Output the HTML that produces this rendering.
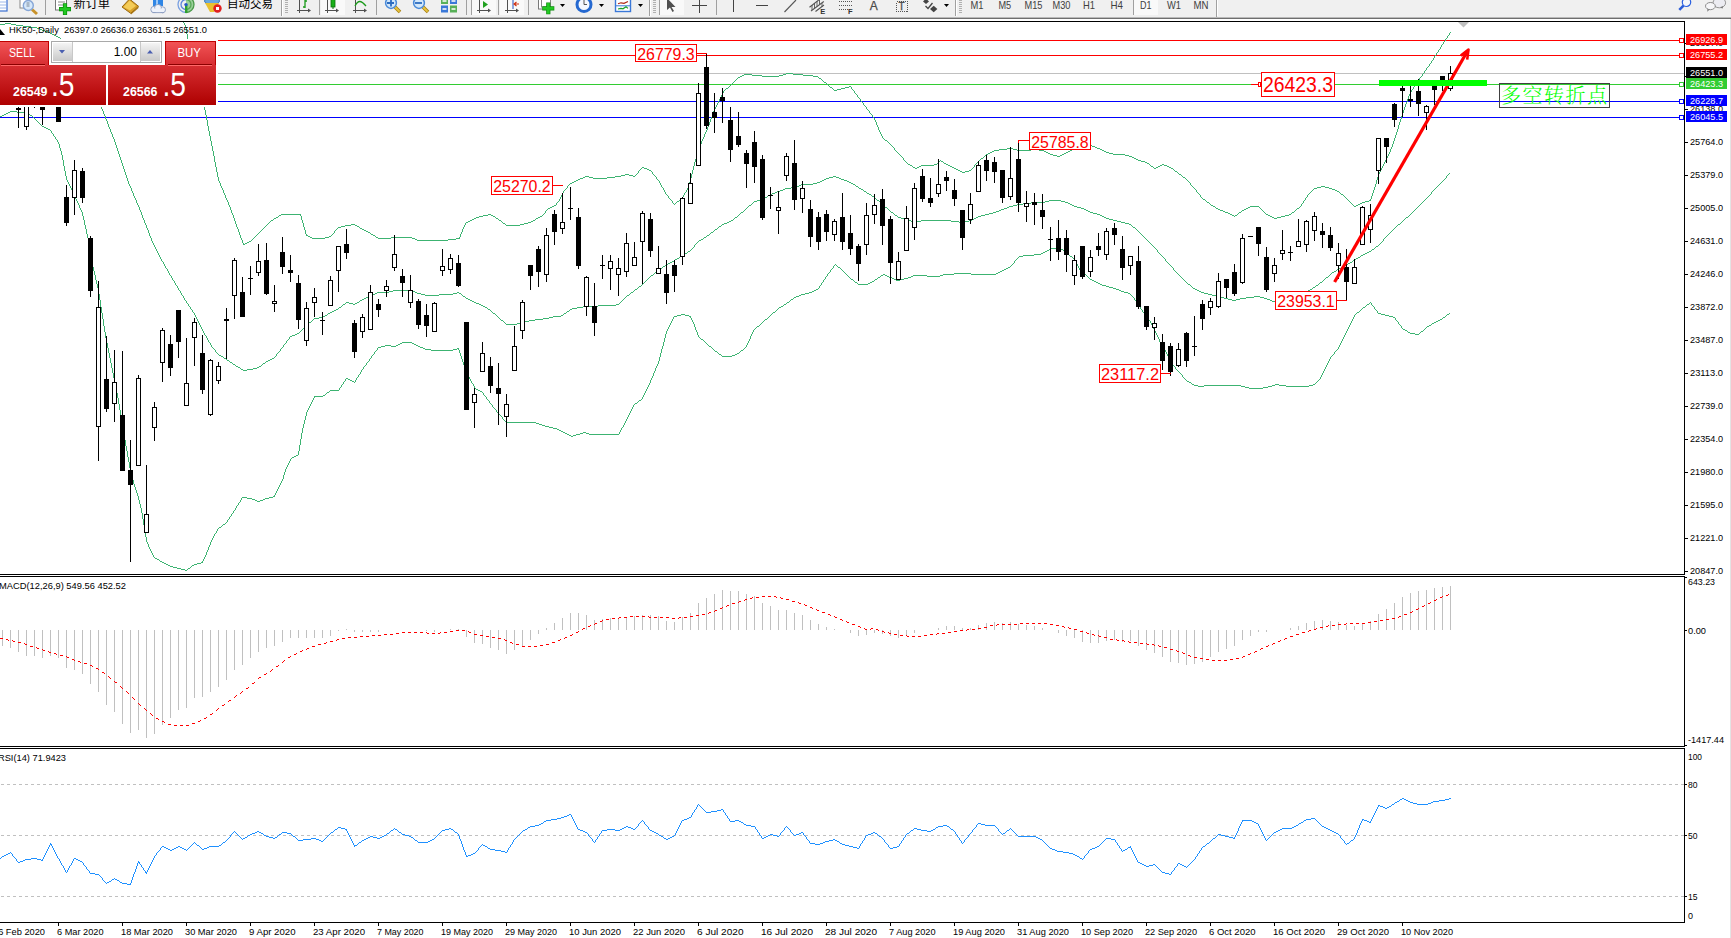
<!DOCTYPE html>
<html><head><meta charset="utf-8"><title>HK50 Daily</title>
<style>html,body{margin:0;padding:0;background:#fff;overflow:hidden}svg{display:block}text{font-family:"Liberation Sans", "Noto Sans CJK SC", sans-serif}</style></head>
<body>
<svg width="1731" height="938" viewBox="0 0 1731 938">
<defs><linearGradient id="gr" gradientUnits="userSpaceOnUse" x1="0" y1="41" x2="0" y2="105"><stop offset="0" stop-color="#f35557"/><stop offset="0.35" stop-color="#d83034"/><stop offset="1" stop-color="#ae0000"/></linearGradient><linearGradient id="gb" x1="0" y1="0" x2="0" y2="1"><stop offset="0" stop-color="#f4f4f4"/><stop offset="1" stop-color="#c9c9c9"/></linearGradient><clipPath id="cm"><rect x="0" y="22" width="1684" height="552"/></clipPath></defs>
<rect width="1731" height="938" fill="#fff"/>
<g shape-rendering="crispEdges">
<rect x="0" y="40" width="1680" height="1" fill="#ff0000"/><rect x="0" y="55" width="1680" height="1" fill="#ff0000"/><rect x="0" y="73" width="1684" height="1" fill="#c0c0c0"/><rect x="0" y="84" width="1680" height="1" fill="#32cd32"/><rect x="0" y="101" width="1680" height="1" fill="#0000ff"/><rect x="0" y="117" width="1680" height="1" fill="#0000ff"/>
</g>
<path fill="#3cb371" shape-rendering="crispEdges" d="M305 230h1v4h-1zM719 99h1v2h-1zM464 225h1v2h-1zM560 197h1v2h-1zM693 166h1v4h-1zM715 107h1v2h-1zM652 172h1v2h-1zM186 27h1v7h-1zM198 82h1v4h-1zM209 131h1v5h-1zM301 216h1v4h-1zM219 181h1v2h-1zM863 103h1v2h-1zM1410 92h1v2h-1zM191 53h1v4h-1zM226 198h1v2h-1zM192 57h1v4h-1zM705 132h1v2h-1zM194 65h1v4h-1zM205 110h1v5h-1zM1397 129h1v3h-1zM232 213h1v2h-1zM559 199h1v2h-1zM1449 33h1v2h-1zM233 215h1v3h-1zM187 34h1v7h-1zM460 234h1v3h-1zM242 240h1v3h-1zM188 41h1v4h-1zM1413 87h1v2h-1zM201 94h1v4h-1zM211 141h1v5h-1zM204 106h1v4h-1zM1409 94h1v2h-1zM304 227h1v3h-1zM1376 180h1v4h-1zM217 172h1v5h-1zM197 78h1v4h-1zM712 114h1v3h-1zM701 141h1v3h-1zM220 183h1v3h-1zM851 87h1v2h-1zM854 91h1v2h-1zM672 201h1v2h-1zM720 97h1v2h-1zM709 122h1v3h-1zM1400 119h1v3h-1zM227 200h1v2h-1zM1307 195h1v2h-1zM688 186h1v2h-1zM193 61h1v4h-1zM231 210h1v3h-1zM1303 201h1v2h-1zM214 156h1v6h-1zM1391 147h1v2h-1zM699 147h1v3h-1zM200 90h1v4h-1zM1379 172h1v2h-1zM1399 122h1v3h-1zM545 211h1v2h-1zM708 125h1v2h-1zM878 127h1v3h-1zM687 188h1v2h-1zM465 223h1v2h-1zM1419 78h1v2h-1zM683 195h1v2h-1zM656 177h1v2h-1zM216 167h1v5h-1zM1403 110h1v3h-1zM660 183h1v2h-1zM1370 199h1v2h-1zM698 150h1v3h-1zM1378 174h1v3h-1zM189 45h1v4h-1zM1390 149h1v3h-1zM695 159h1v3h-1zM686 190h1v2h-1zM702 139h1v2h-1zM1402 113h1v3h-1zM723 91h1v2h-1zM690 178h1v4h-1zM222 188h1v2h-1zM877 125h1v2h-1zM229 205h1v2h-1zM195 69h1v4h-1zM1434 56h1v2h-1zM659 181h1v2h-1zM239 232h1v3h-1zM722 93h1v2h-1zM869 111h1v2h-1zM1405 104h1v3h-1zM1383 164h1v2h-1zM334 231h1v2h-1zM1433 58h1v2h-1zM668 196h1v2h-1zM210 136h1v5h-1zM221 186h1v2h-1zM1429 64h1v2h-1zM1424 71h1v2h-1zM716 105h1v2h-1zM894 148h1v2h-1zM234 218h1v3h-1zM207 120h1v6h-1zM238 229h1v3h-1zM692 170h1v4h-1zM196 73h1v5h-1zM1411 90h1v2h-1zM1443 42h1v2h-1zM1386 158h1v2h-1zM215 162h1v5h-1zM556 203h1v2h-1zM1382 166h1v2h-1zM212 146h1v5h-1zM1438 50h1v2h-1zM1385 160h1v2h-1zM208 126h1v5h-1zM1381 168h1v2h-1zM1393 141h1v3h-1zM459 237h1v2h-1zM228 202h1v3h-1zM1372 193h1v3h-1zM1392 144h1v3h-1zM879 130h1v2h-1zM562 193h1v2h-1zM704 134h1v3h-1zM1396 132h1v3h-1zM203 102h1v4h-1zM213 151h1v5h-1zM1408 96h1v3h-1zM1375 184h1v3h-1zM561 195h1v2h-1zM1395 135h1v3h-1zM199 86h1v4h-1zM1447 36h1v2h-1zM711 117h1v2h-1zM1407 99h1v3h-1zM1374 187h1v3h-1zM694 162h1v4h-1zM663 188h1v2h-1zM710 119h1v3h-1zM689 182h1v4h-1zM202 98h1v4h-1zM718 101h1v2h-1zM1398 125h1v4h-1zM184 23h1v2h-1zM218 177h1v4h-1zM224 193h1v2h-1zM567 186h1v2h-1zM697 153h1v3h-1zM1377 177h1v3h-1zM717 103h1v2h-1zM463 227h1v2h-1zM1190 183h1v2h-1zM1404 107h1v3h-1zM1417 81h1v2h-1zM857 95h1v2h-1zM872 115h1v2h-1zM303 223h1v4h-1zM306 234h1v2h-1zM462 229h1v3h-1zM691 174h1v4h-1zM241 238h1v2h-1zM223 190h1v3h-1zM230 207h1v3h-1zM703 137h1v2h-1zM860 99h1v2h-1zM874 118h1v2h-1zM881 134h1v2h-1zM903 158h1v2h-1zM1301 204h1v2h-1zM236 224h1v3h-1zM1426 68h1v2h-1zM1422 74h1v2h-1zM714 109h1v2h-1zM1380 170h1v2h-1zM880 132h1v2h-1zM684 193h1v2h-1zM713 111h1v3h-1zM235 221h1v3h-1zM1371 196h1v3h-1zM661 185h1v2h-1zM696 156h1v3h-1zM1196 190h1v2h-1zM700 144h1v3h-1zM302 220h1v3h-1zM206 115h1v5h-1zM1394 138h1v3h-1zM1431 61h1v2h-1zM240 235h1v3h-1zM707 127h1v3h-1zM1406 102h1v2h-1zM1305 198h1v2h-1zM1373 190h1v3h-1zM225 195h1v3h-1zM1389 152h1v2h-1zM706 130h1v2h-1zM300 214h1v2h-1zM1401 116h1v3h-1zM1441 45h1v2h-1zM876 122h1v3h-1zM1388 154h1v2h-1zM1200 195h1v2h-1zM721 95h1v2h-1zM190 49h1v4h-1zM1440 47h1v2h-1zM1387 156h1v2h-1zM1436 53h1v2h-1zM461 232h1v2h-1zM638 171h1v2h-1zM875 120h1v2h-1zM882 136h1v2h-1zM237 227h1v2h-1zM185 25h1v2h-1zM866 107h1v2h-1zM563 191h1v2h-1zM1445 39h1v2h-1zM665 192h1v2h-1zM974 165h1v2h-1zM1384 162h1v2h-1zM664 190h1v2h-1zM1415 84h1v2h-1zM243 243h1v2h-1zM580 178h3v1h-3zM593 178h14v1h-14zM1185 178h1v1h-1zM732 83h1v1h-1zM826 83h1v1h-1zM1416 83h1v1h-1zM786 73h7v1h-7zM1423 73h1v1h-1zM583 177h2v1h-2zM589 177h4v1h-4zM607 177h8v1h-8zM1183 177h2v1h-2zM564 190h1v1h-1zM1312 190h1v1h-1zM1335 190h2v1h-2zM670 199h1v1h-1zM680 199h1v1h-1zM1203 199h2v1h-2zM1347 199h1v1h-1zM279 215h2v1h-2zM483 215h5v1h-5zM491 215h2v1h-2zM542 215h1v1h-1zM1232 215h2v1h-2zM1235 215h2v1h-2zM1268 215h2v1h-2zM1285 215h4v1h-4zM662 187h1v1h-1zM1193 187h1v1h-1zM1317 187h4v1h-4zM1325 187h4v1h-4zM251 240h1v1h-1zM417 240h31v1h-31zM550 207h2v1h-2zM1215 207h1v1h-1zM1248 207h2v1h-2zM1259 207h1v1h-1zM1299 207h1v1h-1zM558 201h1v1h-1zM677 201h2v1h-2zM1206 201h1v1h-1zM1349 201h1v1h-1zM1365 201h4v1h-4zM742 75h2v1h-2zM752 75h10v1h-10zM779 75h4v1h-4zM803 75h10v1h-10zM641 168h1v1h-1zM644 168h3v1h-3zM915 168h2v1h-2zM954 168h2v1h-2zM972 168h1v1h-1zM1154 168h2v1h-2zM1171 168h2v1h-2zM729 86h1v1h-1zM829 86h1v1h-1zM849 86h2v1h-2zM1414 86h1v1h-1zM1446 38h1v1h-1zM671 200h1v1h-1zM679 200h1v1h-1zM1205 200h1v1h-1zM1304 200h1v1h-1zM1348 200h1v1h-1zM1369 200h1v1h-1zM642 167h2v1h-2zM913 167h2v1h-2zM917 167h2v1h-2zM952 167h2v1h-2zM973 167h1v1h-1zM1153 167h1v1h-1zM1156 167h2v1h-2zM1169 167h2v1h-2zM552 206h2v1h-2zM1213 206h2v1h-2zM1250 206h9v1h-9zM1300 206h1v1h-1zM1354 206h2v1h-2zM253 238h1v1h-1zM312 238h13v1h-13zM378 238h13v1h-13zM412 238h3v1h-3zM456 238h3v1h-3zM273 219h1v1h-1zM472 219h2v1h-2zM498 219h1v1h-1zM535 219h1v1h-1zM270 221h1v1h-1zM468 221h2v1h-2zM501 221h1v1h-1zM531 221h2v1h-2zM1225 212h3v1h-3zM1239 212h2v1h-2zM1264 212h1v1h-1zM1292 212h2v1h-2zM736 79h1v1h-1zM821 79h1v1h-1zM281 214h19v1h-19zM488 214h3v1h-3zM543 214h1v1h-1zM1230 214h2v1h-2zM1237 214h1v1h-1zM1266 214h2v1h-2zM1289 214h2v1h-2zM259 232h1v1h-1zM368 232h2v1h-2zM735 80h1v1h-1zM822 80h1v1h-1zM1418 80h1v1h-1zM740 76h2v1h-2zM762 76h17v1h-17zM813 76h5v1h-5zM1421 76h1v1h-1zM621 175h4v1h-4zM629 175h4v1h-4zM635 175h1v1h-1zM654 175h1v1h-1zM1181 175h1v1h-1zM639 170h1v1h-1zM649 170h2v1h-2zM958 170h2v1h-2zM969 170h2v1h-2zM1174 170h1v1h-1zM640 169h1v1h-1zM647 169h2v1h-2zM956 169h2v1h-2zM971 169h1v1h-1zM1173 169h1v1h-1zM682 197h1v1h-1zM1201 197h1v1h-1zM1306 197h1v1h-1zM1345 197h1v1h-1zM897 152h1v1h-1zM990 152h2v1h-2zM1046 152h2v1h-2zM1066 152h2v1h-2zM1106 152h3v1h-3zM625 174h4v1h-4zM636 174h1v1h-1zM653 174h1v1h-1zM1179 174h2v1h-2zM907 163h1v1h-1zM937 163h1v1h-1zM944 163h2v1h-2zM976 163h1v1h-1zM1147 163h2v1h-2zM669 198h1v1h-1zM681 198h1v1h-1zM1202 198h1v1h-1zM1346 198h1v1h-1zM892 146h1v1h-1zM1081 146h6v1h-6zM1092 146h3v1h-3zM908 164h2v1h-2zM934 164h3v1h-3zM946 164h2v1h-2zM975 164h1v1h-1zM1149 164h1v1h-1zM1162 164h2v1h-2zM1007 148h6v1h-6zM1074 148h3v1h-3zM1097 148h3v1h-3zM900 155h1v1h-1zM985 155h1v1h-1zM1053 155h4v1h-4zM1060 155h2v1h-2zM1125 155h4v1h-4zM266 225h1v1h-1zM345 225h6v1h-6zM355 225h2v1h-2zM506 225h14v1h-14zM673 203h1v1h-1zM675 203h1v1h-1zM1209 203h1v1h-1zM1302 203h1v1h-1zM1351 203h1v1h-1zM1360 203h2v1h-2zM544 213h1v1h-1zM1228 213h2v1h-2zM1238 213h1v1h-1zM1265 213h1v1h-1zM1291 213h1v1h-1zM999 149h8v1h-8zM1013 149h4v1h-4zM1031 149h8v1h-8zM1072 149h2v1h-2zM1100 149h2v1h-2zM730 85h1v1h-1zM828 85h1v1h-1zM733 82h1v1h-1zM824 82h2v1h-2zM899 154h1v1h-1zM986 154h2v1h-2zM1050 154h3v1h-3zM1062 154h2v1h-2zM1113 154h12v1h-12zM1223 211h2v1h-2zM1241 211h1v1h-1zM1263 211h1v1h-1zM1294 211h1v1h-1zM912 166h1v1h-1zM919 166h2v1h-2zM950 166h2v1h-2zM1151 166h2v1h-2zM1158 166h2v1h-2zM1167 166h2v1h-2zM904 160h1v1h-1zM940 160h1v1h-1zM979 160h1v1h-1zM1138 160h3v1h-3zM724 90h1v1h-1zM834 90h3v1h-3zM853 90h1v1h-1zM585 176h4v1h-4zM615 176h6v1h-6zM633 176h2v1h-2zM655 176h1v1h-1zM1182 176h1v1h-1zM901 156h1v1h-1zM984 156h1v1h-1zM1057 156h3v1h-3zM1129 156h3v1h-3zM255 236h1v1h-1zM308 236h2v1h-2zM329 236h2v1h-2zM375 236h1v1h-1zM252 239h1v1h-1zM415 239h2v1h-2zM448 239h8v1h-8zM725 89h1v1h-1zM833 89h1v1h-1zM837 89h4v1h-4zM852 89h1v1h-1zM1412 89h1v1h-1zM254 237h1v1h-1zM310 237h2v1h-2zM325 237h4v1h-4zM376 237h2v1h-2zM391 237h21v1h-21zM651 171h1v1h-1zM960 171h2v1h-2zM965 171h4v1h-4zM1175 171h2v1h-2zM738 77h2v1h-2zM818 77h1v1h-1zM1420 77h1v1h-1zM276 217h2v1h-2zM476 217h3v1h-3zM495 217h1v1h-1zM538 217h2v1h-2zM1272 217h2v1h-2zM1277 217h4v1h-4zM274 218h2v1h-2zM474 218h2v1h-2zM496 218h2v1h-2zM536 218h2v1h-2zM1274 218h3v1h-3zM898 153h1v1h-1zM988 153h2v1h-2zM1048 153h2v1h-2zM1064 153h2v1h-2zM1109 153h4v1h-4zM548 208h2v1h-2zM1216 208h2v1h-2zM1246 208h2v1h-2zM1260 208h1v1h-1zM1297 208h2v1h-2zM566 188h1v1h-1zM1194 188h1v1h-1zM1314 188h3v1h-3zM1329 188h3v1h-3zM891 145h1v1h-1zM1087 145h5v1h-5zM1428 66h1v1h-1zM557 202h1v1h-1zM676 202h1v1h-1zM1207 202h2v1h-2zM1350 202h1v1h-1zM1362 202h3v1h-3zM980 159h1v1h-1zM1136 159h2v1h-2zM889 143h1v1h-1zM278 216h1v1h-1zM479 216h4v1h-4zM493 216h2v1h-2zM540 216h2v1h-2zM1234 216h1v1h-1zM1270 216h2v1h-2zM1281 216h4v1h-4zM910 165h2v1h-2zM921 165h13v1h-13zM948 165h2v1h-2zM1150 165h1v1h-1zM1160 165h2v1h-2zM1164 165h3v1h-3zM906 162h1v1h-1zM938 162h1v1h-1zM943 162h1v1h-1zM977 162h1v1h-1zM1145 162h2v1h-2zM896 151h1v1h-1zM992 151h2v1h-2zM1044 151h2v1h-2zM1068 151h2v1h-2zM1104 151h2v1h-2zM867 109h1v1h-1zM895 150h1v1h-1zM994 150h5v1h-5zM1017 150h14v1h-14zM1039 150h5v1h-5zM1070 150h2v1h-2zM1102 150h2v1h-2zM666 194h1v1h-1zM1199 194h1v1h-1zM1308 194h1v1h-1zM1341 194h2v1h-2zM667 195h1v1h-1zM1343 195h1v1h-1zM546 210h1v1h-1zM1220 210h3v1h-3zM1242 210h2v1h-2zM1262 210h1v1h-1zM1295 210h1v1h-1zM576 180h2v1h-2zM658 180h1v1h-1zM1187 180h1v1h-1zM744 74h8v1h-8zM783 74h3v1h-3zM793 74h10v1h-10zM271 220h2v1h-2zM470 220h2v1h-2zM499 220h2v1h-2zM533 220h2v1h-2zM554 205h2v1h-2zM1211 205h2v1h-2zM1353 205h1v1h-1zM1356 205h2v1h-2zM258 233h1v1h-1zM333 233h1v1h-1zM370 233h1v1h-1zM1311 191h1v1h-1zM1337 191h2v1h-2zM578 179h2v1h-2zM657 179h1v1h-1zM1186 179h1v1h-1zM685 192h1v1h-1zM1197 192h1v1h-1zM1310 192h1v1h-1zM1339 192h1v1h-1zM265 226h1v1h-1zM341 226h4v1h-4zM357 226h2v1h-2zM905 161h1v1h-1zM939 161h1v1h-1zM941 161h2v1h-2zM978 161h1v1h-1zM1141 161h4v1h-4zM981 158h2v1h-2zM1134 158h2v1h-2zM263 228h1v1h-1zM337 228h1v1h-1zM360 228h2v1h-2zM1437 52h1v1h-1zM962 172h3v1h-3zM1177 172h1v1h-1zM257 234h1v1h-1zM332 234h1v1h-1zM371 234h2v1h-2zM547 209h1v1h-1zM1218 209h2v1h-2zM1244 209h2v1h-2zM1261 209h1v1h-1zM1296 209h1v1h-1zM245 243h2v1h-2zM269 222h1v1h-1zM466 222h2v1h-2zM502 222h1v1h-1zM528 222h3v1h-3zM737 78h1v1h-1zM819 78h2v1h-2zM674 204h1v1h-1zM1210 204h1v1h-1zM1352 204h1v1h-1zM1358 204h2v1h-2zM268 223h1v1h-1zM503 223h2v1h-2zM524 223h4v1h-4zM574 181h2v1h-2zM1188 181h1v1h-1zM637 173h1v1h-1zM1178 173h1v1h-1zM572 182h2v1h-2zM1189 182h1v1h-1zM260 231h1v1h-1zM366 231h2v1h-2zM264 227h1v1h-1zM338 227h3v1h-3zM359 227h1v1h-1zM871 114h1v1h-1zM728 87h1v1h-1zM830 87h2v1h-2zM845 87h4v1h-4zM249 241h2v1h-2zM873 117h1v1h-1zM1442 44h1v1h-1zM256 235h1v1h-1zM307 235h1v1h-1zM331 235h1v1h-1zM373 235h2v1h-2zM902 157h1v1h-1zM983 157h1v1h-1zM1132 157h2v1h-2zM1192 186h1v1h-1zM1321 186h4v1h-4zM565 189h1v1h-1zM1195 189h1v1h-1zM1313 189h1v1h-1zM1332 189h3v1h-3zM1432 60h1v1h-1zM731 84h1v1h-1zM827 84h1v1h-1zM1448 35h1v1h-1zM734 81h1v1h-1zM823 81h1v1h-1zM262 229h1v1h-1zM336 229h1v1h-1zM362 229h2v1h-2zM855 93h1v1h-1zM856 94h1v1h-1zM267 224h1v1h-1zM351 224h4v1h-4zM505 224h1v1h-1zM520 224h4v1h-4zM870 113h1v1h-1zM868 110h1v1h-1zM1344 196h1v1h-1zM247 242h2v1h-2zM893 147h1v1h-1zM1077 147h4v1h-4zM1095 147h2v1h-2zM568 185h1v1h-1zM1191 185h1v1h-1zM859 98h1v1h-1zM261 230h1v1h-1zM335 230h1v1h-1zM364 230h2v1h-2zM726 88h2v1h-2zM832 88h1v1h-1zM841 88h4v1h-4zM890 144h1v1h-1zM183 22h1v1h-1zM885 140h2v1h-2zM570 183h2v1h-2zM858 97h1v1h-1zM1427 67h1v1h-1zM1439 49h1v1h-1zM1198 193h1v1h-1zM1309 193h1v1h-1zM1340 193h1v1h-1zM888 142h1v1h-1zM862 102h1v1h-1zM883 138h1v1h-1zM884 139h1v1h-1zM864 105h1v1h-1zM865 106h1v1h-1zM1435 55h1v1h-1zM1425 70h1v1h-1zM1450 32h1v1h-1zM1444 41h1v1h-1zM887 141h1v1h-1zM861 101h1v1h-1zM1430 63h1v1h-1zM569 184h1v1h-1zM244 244h1v1h-1z"/>
<path fill="#3cb371" shape-rendering="crispEdges" d="M207 338h1v2h-1zM210 343h1v2h-1zM99 103h1v2h-1zM100 105h1v2h-1zM178 288h1v2h-1zM106 119h1v2h-1zM67 48h1v2h-1zM127 178h1v3h-1zM113 137h1v2h-1zM110 129h1v3h-1zM134 196h1v2h-1zM131 188h1v3h-1zM116 145h1v3h-1zM117 148h1v3h-1zM167 269h1v2h-1zM144 220h1v3h-1zM145 223h1v2h-1zM151 238h1v3h-1zM1173 268h1v2h-1zM98 101h1v2h-1zM180 291h1v2h-1zM105 116h1v3h-1zM65 45h1v2h-1zM69 51h1v2h-1zM126 175h1v3h-1zM111 132h1v2h-1zM132 191h1v2h-1zM112 134h1v3h-1zM201 327h1v2h-1zM133 193h1v3h-1zM164 264h1v2h-1zM90 86h1v2h-1zM139 207h1v3h-1zM168 271h1v2h-1zM146 225h1v3h-1zM143 218h1v2h-1zM186 301h1v2h-1zM150 236h1v2h-1zM190 307h1v2h-1zM157 251h1v2h-1zM160 257h1v2h-1zM118 151h1v3h-1zM283 345h1v2h-1zM71 54h1v2h-1zM199 323h1v2h-1zM200 325h1v2h-1zM92 90h1v2h-1zM138 205h1v2h-1zM286 341h1v2h-1zM188 304h1v2h-1zM192 310h1v2h-1zM77 63h1v2h-1zM81 69h1v2h-1zM159 255h1v2h-1zM694 245h1v2h-1zM101 107h1v2h-1zM108 124h1v3h-1zM79 66h1v2h-1zM82 71h1v2h-1zM194 313h1v2h-1zM83 73h1v2h-1zM140 210h1v2h-1zM61 39h1v2h-1zM153 243h1v2h-1zM276 354h1v2h-1zM211 345h1v2h-1zM107 121h1v3h-1zM128 181h1v3h-1zM203 331h1v2h-1zM63 42h1v2h-1zM123 166h1v3h-1zM184 298h1v2h-1zM73 57h1v2h-1zM202 329h1v2h-1zM91 88h1v2h-1zM169 273h1v2h-1zM172 278h1v2h-1zM115 142h1v3h-1zM161 259h1v2h-1zM215 350h1v2h-1zM122 163h1v3h-1zM183 296h1v2h-1zM75 60h1v2h-1zM280 349h1v2h-1zM1157 250h1v2h-1zM171 276h1v2h-1zM196 317h1v2h-1zM85 77h1v2h-1zM163 262h1v2h-1zM114 139h1v3h-1zM152 241h1v2h-1zM102 109h1v2h-1zM109 127h1v2h-1zM130 186h1v2h-1zM195 315h1v2h-1zM84 75h1v2h-1zM147 228h1v2h-1zM154 245h1v2h-1zM125 172h1v3h-1zM135 198h1v2h-1zM204 333h1v2h-1zM142 215h1v3h-1zM93 92h1v2h-1zM120 157h1v3h-1zM1446 176h1v2h-1zM124 169h1v3h-1zM181 293h1v2h-1zM206 336h1v2h-1zM95 95h1v2h-1zM141 212h1v3h-1zM1165 259h1v2h-1zM165 266h1v2h-1zM119 154h1v3h-1zM175 283h1v2h-1zM104 114h1v2h-1zM1431 192h1v2h-1zM86 79h1v2h-1zM89 84h1v2h-1zM149 233h1v3h-1zM156 249h1v2h-1zM1383 239h1v2h-1zM103 111h1v3h-1zM198 321h1v2h-1zM88 82h1v2h-1zM137 203h1v2h-1zM148 230h1v3h-1zM155 247h1v2h-1zM129 184h1v2h-1zM136 200h1v3h-1zM208 340h1v2h-1zM97 99h1v2h-1zM121 160h1v3h-1zM96 97h1v2h-1zM174 281h1v2h-1zM177 286h1v2h-1zM289 337h1v2h-1zM158 253h1v2h-1zM197 319h1v2h-1zM724 223h3v1h-3zM1125 223h4v1h-4zM1400 223h1v1h-1zM707 235h2v1h-2zM1142 235h1v1h-1zM1387 235h1v1h-1zM772 193h3v1h-3zM867 193h2v1h-2zM777 191h3v1h-3zM864 191h2v1h-2zM1432 191h1v1h-1zM241 369h2v1h-2zM247 369h6v1h-6zM665 265h1v1h-1zM1170 265h1v1h-1zM1345 265h2v1h-2zM375 293h2v1h-2zM417 293h4v1h-4zM453 293h4v1h-4zM459 293h2v1h-2zM630 293h1v1h-1zM1204 293h4v1h-4zM1303 293h2v1h-2zM741 212h2v1h-2zM891 212h2v1h-2zM993 212h3v1h-3zM1090 212h3v1h-3zM1412 212h1v1h-1zM731 220h2v1h-2zM908 220h3v1h-3zM921 220h30v1h-30zM969 220h3v1h-3zM1113 220h4v1h-4zM1403 220h1v1h-1zM226 359h1v1h-1zM270 359h2v1h-2zM783 189h2v1h-2zM861 189h2v1h-2zM1434 189h1v1h-1zM0 24h5v1h-5zM11 24h5v1h-5zM737 216h1v1h-1zM897 216h1v1h-1zM978 216h3v1h-3zM1102 216h2v1h-2zM1408 216h1v1h-1zM801 184h12v1h-12zM853 184h2v1h-2zM1439 184h1v1h-1zM311 321h1v1h-1zM503 321h1v1h-1zM525 321h4v1h-4zM342 305h1v1h-1zM481 305h2v1h-2zM598 305h18v1h-18zM753 202h1v1h-1zM880 202h1v1h-1zM1031 202h14v1h-14zM1065 202h3v1h-3zM1422 202h1v1h-1zM685 253h2v1h-2zM1159 253h1v1h-1zM1365 253h2v1h-2zM638 287h1v1h-1zM1192 287h1v1h-1zM1313 287h2v1h-2zM362 299h2v1h-2zM468 299h2v1h-2zM623 299h1v1h-1zM1228 299h4v1h-4zM1236 299h4v1h-4zM1267 299h3v1h-3zM1284 299h4v1h-4zM189 306h1v1h-1zM341 306h1v1h-1zM483 306h2v1h-2zM583 306h15v1h-15zM332 311h2v1h-2zM491 311h1v1h-1zM567 311h2v1h-2zM359 301h1v1h-1zM472 301h2v1h-2zM621 301h1v1h-1zM1272 301h6v1h-6zM307 324h1v1h-1zM506 324h11v1h-11zM740 213h1v1h-1zM893 213h1v1h-1zM989 213h4v1h-4zM1093 213h4v1h-4zM1411 213h1v1h-1zM368 296h2v1h-2zM463 296h2v1h-2zM626 296h1v1h-1zM1216 296h4v1h-4zM1254 296h6v1h-6zM1295 296h3v1h-3zM182 295h1v1h-1zM370 295h2v1h-2zM425 295h14v1h-14zM462 295h1v1h-1zM627 295h2v1h-2zM1212 295h4v1h-4zM1298 295h3v1h-3zM319 317h4v1h-4zM498 317h1v1h-1zM549 317h4v1h-4zM710 233h1v1h-1zM1140 233h1v1h-1zM1389 233h1v1h-1zM648 278h1v1h-1zM1182 278h1v1h-1zM1325 278h1v1h-1zM692 248h1v1h-1zM1155 248h1v1h-1zM1374 248h1v1h-1zM729 221h2v1h-2zM911 221h2v1h-2zM917 221h4v1h-4zM951 221h8v1h-8zM965 221h4v1h-4zM1117 221h4v1h-4zM1402 221h1v1h-1zM796 186h3v1h-3zM856 186h2v1h-2zM1437 186h1v1h-1zM377 292h12v1h-12zM415 292h2v1h-2zM457 292h2v1h-2zM631 292h2v1h-2zM1201 292h3v1h-3zM1305 292h2v1h-2zM16 25h7v1h-7zM366 297h2v1h-2zM465 297h1v1h-1zM625 297h1v1h-1zM1220 297h4v1h-4zM1246 297h8v1h-8zM1260 297h4v1h-4zM1292 297h3v1h-3zM739 214h1v1h-1zM894 214h1v1h-1zM985 214h4v1h-4zM1097 214h3v1h-3zM1410 214h1v1h-1zM635 289h2v1h-2zM1195 289h2v1h-2zM1310 289h2v1h-2zM687 252h1v1h-1zM1158 252h1v1h-1zM1367 252h2v1h-2zM327 314h1v1h-1zM495 314h1v1h-1zM563 314h1v1h-1zM817 182h3v1h-3zM849 182h2v1h-2zM1441 182h1v1h-1zM170 275h1v1h-1zM651 275h2v1h-2zM1179 275h1v1h-1zM1329 275h1v1h-1zM824 179h2v1h-2zM841 179h3v1h-3zM1444 179h1v1h-1zM655 272h2v1h-2zM1176 272h1v1h-1zM1332 272h2v1h-2zM372 294h3v1h-3zM421 294h4v1h-4zM439 294h14v1h-14zM461 294h1v1h-1zM629 294h1v1h-1zM1208 294h4v1h-4zM1301 294h2v1h-2zM747 207h1v1h-1zM885 207h2v1h-2zM1007 207h2v1h-2zM1077 207h4v1h-4zM1417 207h1v1h-1zM670 262h2v1h-2zM1167 262h1v1h-1zM1350 262h2v1h-2zM213 348h1v1h-1zM281 348h1v1h-1zM31 27h6v1h-6zM639 286h2v1h-2zM1191 286h1v1h-1zM1315 286h1v1h-1zM666 264h2v1h-2zM1169 264h1v1h-1zM1347 264h1v1h-1zM749 205h2v1h-2zM883 205h1v1h-1zM1013 205h4v1h-4zM1072 205h2v1h-2zM1419 205h1v1h-1zM744 210h1v1h-1zM889 210h1v1h-1zM999 210h2v1h-2zM1086 210h2v1h-2zM1414 210h1v1h-1zM701 239h2v1h-2zM1146 239h1v1h-1zM748 206h1v1h-1zM884 206h1v1h-1zM1009 206h4v1h-4zM1074 206h3v1h-3zM1418 206h1v1h-1zM727 222h2v1h-2zM913 222h4v1h-4zM959 222h6v1h-6zM1121 222h4v1h-4zM1401 222h1v1h-1zM209 342h1v1h-1zM698 241h1v1h-1zM1148 241h1v1h-1zM1382 241h1v1h-1zM339 307h2v1h-2zM485 307h2v1h-2zM577 307h6v1h-6zM693 247h1v1h-1zM1154 247h1v1h-1zM1375 247h1v1h-1zM767 196h1v1h-1zM872 196h2v1h-2zM1428 196h1v1h-1zM746 208h1v1h-1zM887 208h1v1h-1zM1004 208h3v1h-3zM1081 208h3v1h-3zM1416 208h1v1h-1zM179 290h1v1h-1zM393 290h19v1h-19zM634 290h1v1h-1zM1197 290h2v1h-2zM1308 290h2v1h-2zM304 327h1v1h-1zM185 300h1v1h-1zM360 300h2v1h-2zM470 300h2v1h-2zM622 300h1v1h-1zM1232 300h4v1h-4zM1270 300h2v1h-2zM1278 300h6v1h-6zM68 50h1v1h-1zM235 365h1v1h-1zM261 365h1v1h-1zM752 203h1v1h-1zM881 203h1v1h-1zM1023 203h8v1h-8zM1068 203h2v1h-2zM1421 203h1v1h-1zM37 28h3v1h-3zM338 308h1v1h-1zM487 308h1v1h-1zM572 308h5v1h-5zM734 218h1v1h-1zM901 218h4v1h-4zM974 218h2v1h-2zM1106 218h3v1h-3zM1405 218h1v1h-1zM346 302h3v1h-3zM357 302h2v1h-2zM474 302h2v1h-2zM620 302h1v1h-1zM738 215h1v1h-1zM895 215h2v1h-2zM981 215h4v1h-4zM1100 215h2v1h-2zM1409 215h1v1h-1zM654 273h1v1h-1zM1177 273h1v1h-1zM1331 273h1v1h-1zM166 268h1v1h-1zM661 268h1v1h-1zM1339 268h2v1h-2zM677 258h2v1h-2zM1164 258h1v1h-1zM1356 258h2v1h-2zM829 177h4v1h-4zM836 177h3v1h-3zM697 242h1v1h-1zM1149 242h1v1h-1zM1381 242h1v1h-1zM757 200h4v1h-4zM877 200h2v1h-2zM1049 200h12v1h-12zM1424 200h1v1h-1zM719 226h2v1h-2zM1132 226h1v1h-1zM1396 226h1v1h-1zM662 267h1v1h-1zM1172 267h1v1h-1zM1341 267h2v1h-2zM323 316h2v1h-2zM497 316h1v1h-1zM553 316h8v1h-8zM23 26h8v1h-8zM715 229h2v1h-2zM1136 229h1v1h-1zM1393 229h1v1h-1zM187 303h1v1h-1zM345 303h1v1h-1zM349 303h4v1h-4zM355 303h2v1h-2zM476 303h3v1h-3zM619 303h1v1h-1zM657 271h1v1h-1zM1175 271h1v1h-1zM1334 271h2v1h-2zM229 361h1v1h-1zM266 361h2v1h-2zM826 178h3v1h-3zM839 178h2v1h-2zM1445 178h1v1h-1zM309 322h2v1h-2zM504 322h1v1h-1zM521 322h4v1h-4zM70 53h1v1h-1zM328 313h2v1h-2zM493 313h2v1h-2zM564 313h2v1h-2zM364 298h2v1h-2zM466 298h2v1h-2zM624 298h1v1h-1zM1224 298h4v1h-4zM1240 298h6v1h-6zM1264 298h3v1h-3zM1288 298h4v1h-4zM688 251h2v1h-2zM1369 251h2v1h-2zM193 312h1v1h-1zM330 312h2v1h-2zM492 312h1v1h-1zM566 312h1v1h-1zM313 319h1v1h-1zM500 319h1v1h-1zM535 319h8v1h-8zM162 261h1v1h-1zM672 261h2v1h-2zM1166 261h1v1h-1zM1352 261h1v1h-1zM703 238h1v1h-1zM1145 238h1v1h-1zM1384 238h1v1h-1zM813 183h4v1h-4zM851 183h2v1h-2zM1440 183h1v1h-1zM649 277h1v1h-1zM1181 277h1v1h-1zM1326 277h2v1h-2zM683 254h2v1h-2zM1160 254h1v1h-1zM1363 254h2v1h-2zM5 23h6v1h-6zM668 263h2v1h-2zM1168 263h1v1h-1zM1348 263h2v1h-2zM743 211h1v1h-1zM890 211h1v1h-1zM996 211h3v1h-3zM1088 211h2v1h-2zM1413 211h1v1h-1zM297 333h2v1h-2zM191 309h1v1h-1zM336 309h2v1h-2zM488 309h2v1h-2zM570 309h2v1h-2zM314 318h5v1h-5zM499 318h1v1h-1zM543 318h6v1h-6zM695 244h1v1h-1zM1151 244h1v1h-1zM1379 244h1v1h-1zM637 288h1v1h-1zM1193 288h2v1h-2zM1312 288h1v1h-1zM751 204h1v1h-1zM882 204h1v1h-1zM1017 204h6v1h-6zM1070 204h2v1h-2zM1420 204h1v1h-1zM644 282h1v1h-1zM1186 282h1v1h-1zM1320 282h2v1h-2zM389 291h4v1h-4zM412 291h3v1h-3zM633 291h1v1h-1zM1199 291h2v1h-2zM1307 291h1v1h-1zM223 357h1v1h-1zM274 357h1v1h-1zM722 224h2v1h-2zM1129 224h2v1h-2zM1398 224h2v1h-2zM699 240h2v1h-2zM1147 240h1v1h-1zM217 353h1v1h-1zM277 353h1v1h-1zM833 176h3v1h-3zM763 198h2v1h-2zM875 198h1v1h-1zM1426 198h1v1h-1zM58 37h2v1h-2zM650 276h1v1h-1zM1180 276h1v1h-1zM1328 276h1v1h-1zM343 304h2v1h-2zM353 304h2v1h-2zM479 304h2v1h-2zM616 304h3v1h-3zM238 367h2v1h-2zM257 367h2v1h-2zM822 180h2v1h-2zM844 180h3v1h-3zM1443 180h1v1h-1zM780 190h3v1h-3zM863 190h1v1h-1zM1433 190h1v1h-1zM243 370h4v1h-4zM1448 174h1v1h-1zM675 259h2v1h-2zM1355 259h1v1h-1zM658 270h1v1h-1zM1174 270h1v1h-1zM1336 270h1v1h-1zM745 209h1v1h-1zM888 209h1v1h-1zM1001 209h3v1h-3zM1084 209h2v1h-2zM1415 209h1v1h-1zM679 257h1v1h-1zM1163 257h1v1h-1zM1358 257h2v1h-2zM303 328h1v1h-1zM236 366h2v1h-2zM259 366h2v1h-2zM709 234h1v1h-1zM1141 234h1v1h-1zM1388 234h1v1h-1zM754 201h3v1h-3zM879 201h1v1h-1zM1045 201h4v1h-4zM1061 201h4v1h-4zM1423 201h1v1h-1zM785 188h6v1h-6zM859 188h2v1h-2zM1435 188h1v1h-1zM300 331h1v1h-1zM659 269h2v1h-2zM1337 269h2v1h-2zM775 192h2v1h-2zM866 192h1v1h-1zM704 237h2v1h-2zM1144 237h1v1h-1zM1385 237h1v1h-1zM227 360h2v1h-2zM268 360h2v1h-2zM696 243h1v1h-1zM1150 243h1v1h-1zM1380 243h1v1h-1zM325 315h2v1h-2zM496 315h1v1h-1zM561 315h2v1h-2zM714 230h1v1h-1zM1137 230h1v1h-1zM1392 230h1v1h-1zM212 347h1v1h-1zM282 347h1v1h-1zM653 274h1v1h-1zM1178 274h1v1h-1zM1330 274h1v1h-1zM733 219h1v1h-1zM905 219h3v1h-3zM972 219h2v1h-2zM1109 219h4v1h-4zM1404 219h1v1h-1zM735 217h2v1h-2zM898 217h3v1h-3zM976 217h2v1h-2zM1104 217h2v1h-2zM1406 217h2v1h-2zM645 281h1v1h-1zM1185 281h1v1h-1zM1322 281h1v1h-1zM765 197h2v1h-2zM874 197h1v1h-1zM1427 197h1v1h-1zM768 195h2v1h-2zM871 195h1v1h-1zM1429 195h1v1h-1zM224 358h2v1h-2zM272 358h2v1h-2zM799 185h2v1h-2zM855 185h1v1h-1zM1438 185h1v1h-1zM791 187h5v1h-5zM858 187h1v1h-1zM1436 187h1v1h-1zM820 181h2v1h-2zM847 181h2v1h-2zM1442 181h1v1h-1zM706 236h1v1h-1zM1143 236h1v1h-1zM1386 236h1v1h-1zM312 320h1v1h-1zM501 320h2v1h-2zM529 320h6v1h-6zM205 335h1v1h-1zM292 335h3v1h-3zM94 94h1v1h-1zM674 260h1v1h-1zM1353 260h2v1h-2zM219 355h2v1h-2zM230 362h2v1h-2zM265 362h1v1h-1zM308 323h1v1h-1zM505 323h1v1h-1zM517 323h4v1h-4zM54 35h2v1h-2zM663 266h2v1h-2zM1171 266h1v1h-1zM1343 266h2v1h-2zM682 255h1v1h-1zM1161 255h1v1h-1zM1361 255h2v1h-2zM287 340h1v1h-1zM691 249h1v1h-1zM1156 249h1v1h-1zM1372 249h2v1h-2zM221 356h2v1h-2zM275 356h1v1h-1zM290 336h2v1h-2zM761 199h2v1h-2zM876 199h1v1h-1zM1425 199h1v1h-1zM240 368h1v1h-1zM253 368h4v1h-4zM642 284h1v1h-1zM1188 284h2v1h-2zM1318 284h1v1h-1zM301 330h1v1h-1zM42 30h3v1h-3zM1152 245h1v1h-1zM1378 245h1v1h-1zM711 232h2v1h-2zM1139 232h1v1h-1zM1390 232h1v1h-1zM233 364h2v1h-2zM262 364h1v1h-1zM713 231h1v1h-1zM1138 231h1v1h-1zM1391 231h1v1h-1zM721 225h1v1h-1zM1131 225h1v1h-1zM1397 225h1v1h-1zM643 283h1v1h-1zM1187 283h1v1h-1zM1319 283h1v1h-1zM334 310h2v1h-2zM490 310h1v1h-1zM569 310h1v1h-1zM56 36h2v1h-2zM279 351h1v1h-1zM718 227h1v1h-1zM1133 227h2v1h-2zM1395 227h1v1h-1zM770 194h2v1h-2zM869 194h2v1h-2zM1430 194h1v1h-1zM52 34h2v1h-2zM302 329h1v1h-1zM690 250h1v1h-1zM1371 250h1v1h-1zM680 256h2v1h-2zM1162 256h1v1h-1zM1360 256h1v1h-1zM173 280h1v1h-1zM646 280h1v1h-1zM1184 280h1v1h-1zM1323 280h1v1h-1zM232 363h1v1h-1zM263 363h2v1h-2zM1449 173h1v1h-1zM176 285h1v1h-1zM641 285h1v1h-1zM1190 285h1v1h-1zM1316 285h2v1h-2zM284 344h1v1h-1zM48 32h2v1h-2zM50 33h2v1h-2zM72 56h1v1h-1zM214 349h1v1h-1zM74 59h1v1h-1zM1153 246h1v1h-1zM1376 246h2v1h-2zM78 65h1v1h-1zM45 31h3v1h-3zM87 81h1v1h-1zM216 352h1v1h-1zM278 352h1v1h-1zM285 343h1v1h-1zM647 279h1v1h-1zM1183 279h1v1h-1zM1324 279h1v1h-1zM288 339h1v1h-1zM717 228h1v1h-1zM1135 228h1v1h-1zM1394 228h1v1h-1zM218 354h1v1h-1zM60 38h1v1h-1zM64 44h1v1h-1zM305 326h1v1h-1zM62 41h1v1h-1zM66 47h1v1h-1zM299 332h1v1h-1zM295 334h2v1h-2zM306 325h1v1h-1zM40 29h2v1h-2zM76 62h1v1h-1zM80 68h1v1h-1zM1447 175h1v1h-1z"/>
<path fill="#3cb371" shape-rendering="crispEdges" d="M299 445h1v6h-1zM1343 337h1v2h-1zM369 359h1v2h-1zM204 557h1v2h-1zM64 166h1v5h-1zM216 531h1v2h-1zM127 451h1v6h-1zM120 410h1v6h-1zM468 375h1v2h-1zM67 180h1v2h-1zM111 363h1v5h-1zM104 326h1v6h-1zM283 475h1v4h-1zM95 275h1v5h-1zM121 416h1v6h-1zM88 238h1v6h-1zM97 284h1v4h-1zM629 413h1v2h-1zM212 538h1v2h-1zM98 288h1v6h-1zM819 286h1v2h-1zM460 353h1v3h-1zM1330 357h1v2h-1zM124 434h1v6h-1zM653 373h1v3h-1zM84 220h1v5h-1zM137 493h1v3h-1zM306 412h1v4h-1zM110 358h1v5h-1zM345 379h1v2h-1zM147 542h1v2h-1zM1342 339h1v2h-1zM140 504h1v4h-1zM203 559h1v2h-1zM1156 333h1v2h-1zM650 380h1v3h-1zM282 479h1v2h-1zM341 385h1v2h-1zM130 468h1v4h-1zM753 330h1v2h-1zM692 320h1v2h-1zM106 338h1v5h-1zM211 540h1v2h-1zM123 428h1v6h-1zM90 250h1v6h-1zM116 388h1v5h-1zM100 300h1v7h-1zM278 487h1v2h-1zM227 520h1v2h-1zM1334 352h1v2h-1zM1329 359h1v2h-1zM305 416h1v4h-1zM1145 314h1v2h-1zM466 370h1v2h-1zM467 372h1v3h-1zM103 319h1v7h-1zM129 462h1v6h-1zM1395 318h1v2h-1zM313 398h1v2h-1zM669 325h1v2h-1zM59 144h1v4h-1zM288 463h1v2h-1zM309 406h1v2h-1zM210 542h1v3h-1zM82 212h1v4h-1zM62 155h1v5h-1zM301 433h1v6h-1zM125 440h1v6h-1zM109 353h1v5h-1zM238 503h1v2h-1zM102 313h1v6h-1zM1328 361h1v2h-1zM136 490h1v3h-1zM285 469h1v3h-1zM830 270h1v2h-1zM1154 329h1v2h-1zM1324 369h1v2h-1zM363 367h1v2h-1zM312 400h1v2h-1zM105 332h1v6h-1zM122 422h1v6h-1zM502 417h1v2h-1zM1347 329h1v2h-1zM241 498h1v2h-1zM308 408h1v2h-1zM374 352h1v2h-1zM300 439h1v6h-1zM461 356h1v3h-1zM85 225h1v4h-1zM465 367h1v3h-1zM233 511h1v2h-1zM303 424h1v4h-1zM1323 371h1v2h-1zM483 393h1v2h-1zM58 142h1v2h-1zM1371 303h1v2h-1zM1171 362h1v2h-1zM626 419h1v2h-1zM81 210h1v2h-1zM694 324h1v3h-1zM358 375h1v2h-1zM91 256h1v6h-1zM307 410h1v2h-1zM236 506h1v2h-1zM70 186h1v2h-1zM1339 345h1v2h-1zM114 378h1v5h-1zM290 459h1v2h-1zM1014 261h1v2h-1zM1167 354h1v2h-1zM63 160h1v6h-1zM625 421h1v2h-1zM1182 375h1v2h-1zM1134 298h1v2h-1zM1148 318h1v2h-1zM126 446h1v5h-1zM621 428h1v2h-1zM1354 315h1v2h-1zM649 383h1v2h-1zM281 481h1v2h-1zM474 386h1v2h-1zM496 410h1v2h-1zM1338 347h1v2h-1zM657 364h1v2h-1zM289 461h1v2h-1zM133 480h1v4h-1zM749 339h1v2h-1zM207 550h1v2h-1zM620 430h1v2h-1zM68 182h1v2h-1zM633 405h1v2h-1zM1325 367h1v2h-1zM69 184h1v2h-1zM648 385h1v2h-1zM1169 358h1v2h-1zM1349 325h1v2h-1zM656 366h1v2h-1zM1166 352h1v2h-1zM143 519h1v6h-1zM76 199h1v2h-1zM1136 301h1v2h-1zM92 262h1v5h-1zM748 341h1v2h-1zM83 216h1v4h-1zM284 472h1v3h-1zM206 552h1v3h-1zM119 404h1v6h-1zM149 547h1v2h-1zM667 329h1v2h-1zM825 277h1v2h-1zM1158 337h1v2h-1zM89 244h1v6h-1zM115 383h1v5h-1zM99 294h1v6h-1zM1320 377h1v2h-1zM1175 367h1v2h-1zM664 338h1v4h-1zM145 531h1v6h-1zM833 266h1v2h-1zM462 359h1v3h-1zM205 555h1v2h-1zM217 529h1v2h-1zM112 368h1v5h-1zM659 357h1v4h-1zM213 536h1v2h-1zM78 203h1v2h-1zM134 484h1v3h-1zM101 307h1v6h-1zM138 496h1v4h-1zM671 321h1v2h-1zM148 544h1v3h-1zM1075 260h1v2h-1zM1157 335h1v2h-1zM1351 321h1v2h-1zM662 346h1v3h-1zM94 271h1v4h-1zM670 323h1v2h-1zM1350 323h1v2h-1zM645 391h1v2h-1zM277 489h1v2h-1zM107 343h1v5h-1zM696 330h1v2h-1zM117 393h1v5h-1zM146 537h1v5h-1zM1346 331h1v2h-1zM661 349h1v4h-1zM1077 264h1v2h-1zM632 407h1v2h-1zM113 373h1v5h-1zM644 393h1v2h-1zM371 356h1v2h-1zM652 376h1v2h-1zM93 267h1v4h-1zM86 229h1v5h-1zM1151 323h1v2h-1zM202 561h1v2h-1zM1398 322h1v2h-1zM214 534h1v2h-1zM752 332h1v2h-1zM627 417h1v2h-1zM695 327h1v3h-1zM651 378h1v2h-1zM128 457h1v5h-1zM343 382h1v2h-1zM71 188h1v2h-1zM1168 356h1v2h-1zM751 334h1v2h-1zM209 545h1v2h-1zM663 342h1v4h-1zM1153 327h1v2h-1zM1327 363h1v2h-1zM1150 321h1v2h-1zM141 508h1v5h-1zM151 551h1v2h-1zM1160 342h1v2h-1zM486 397h1v2h-1zM658 361h1v3h-1zM1374 307h1v2h-1zM311 402h1v2h-1zM87 234h1v4h-1zM1326 365h1v2h-1zM314 396h1v2h-1zM823 280h1v2h-1zM302 428h1v5h-1zM361 370h1v2h-1zM310 404h1v2h-1zM77 201h1v2h-1zM1345 333h1v2h-1zM150 549h1v2h-1zM153 555h1v2h-1zM1159 339h1v3h-1zM628 415h1v2h-1zM459 350h1v3h-1zM624 423h1v2h-1zM65 171h1v5h-1zM96 280h1v4h-1zM469 377h1v2h-1zM142 513h1v6h-1zM280 483h1v2h-1zM229 517h1v2h-1zM339 388h1v2h-1zM691 318h1v2h-1zM61 151h1v4h-1zM79 205h1v3h-1zM821 283h1v2h-1zM108 348h1v5h-1zM698 335h1v2h-1zM623 425h1v2h-1zM304 420h1v4h-1zM1076 262h1v2h-1zM1079 268h1v2h-1zM619 432h1v2h-1zM647 387h1v2h-1zM279 485h1v2h-1zM144 525h1v6h-1zM655 368h1v3h-1zM458 348h1v2h-1zM287 465h1v2h-1zM298 451h1v4h-1zM366 363h1v2h-1zM666 331h1v3h-1zM60 148h1v3h-1zM377 348h1v2h-1zM697 332h1v3h-1zM66 176h1v4h-1zM1078 266h1v2h-1zM827 274h1v2h-1zM489 401h1v2h-1zM231 514h1v2h-1zM492 405h1v2h-1zM73 192h1v2h-1zM1170 360h1v2h-1zM356 378h1v2h-1zM660 353h1v4h-1zM139 500h1v4h-1zM1341 341h1v2h-1zM1152 325h1v2h-1zM1155 331h1v2h-1zM355 380h1v2h-1zM1340 343h1v2h-1zM51 131h1v2h-1zM75 196h1v3h-1zM72 190h1v2h-1zM276 491h1v2h-1zM118 398h1v6h-1zM631 409h1v2h-1zM1161 344h1v2h-1zM1401 326h1v2h-1zM131 472h1v4h-1zM750 336h1v3h-1zM208 547h1v3h-1zM240 500h1v2h-1zM286 467h1v2h-1zM464 365h1v2h-1zM471 381h1v2h-1zM53 134h1v2h-1zM630 411h1v2h-1zM1322 373h1v2h-1zM693 322h1v2h-1zM80 208h1v2h-1zM1138 304h1v2h-1zM235 508h1v2h-1zM1162 346h1v2h-1zM1321 375h1v2h-1zM665 334h1v4h-1zM1377 311h1v2h-1zM360 372h1v2h-1zM463 362h1v3h-1zM1353 317h1v2h-1zM470 379h1v2h-1zM473 384h1v2h-1zM132 476h1v4h-1zM135 487h1v3h-1zM1140 307h1v2h-1zM672 319h1v2h-1zM152 553h1v2h-1zM1352 319h1v2h-1zM1165 350h1v2h-1zM1348 327h1v2h-1zM643 395h1v2h-1zM275 493h1v2h-1zM747 343h1v2h-1zM646 389h1v2h-1zM690 316h1v2h-1zM642 397h1v2h-1zM654 371h1v2h-1zM274 495h1v2h-1zM1142 310h1v2h-1zM746 345h1v2h-1zM74 194h1v2h-1zM673 317h1v2h-1zM55 137h1v2h-1zM668 327h1v2h-1zM1344 335h1v2h-1zM57 140h1v2h-1zM847 275h1v1h-1zM881 275h2v1h-2zM885 275h2v1h-2zM913 275h14v1h-14zM940 275h3v1h-3zM1086 275h1v1h-1zM346 378h2v1h-2zM1184 378h1v1h-1zM850 278h1v1h-1zM877 278h1v1h-1zM892 278h2v1h-2zM904 278h4v1h-4zM1089 278h1v1h-1zM820 285h1v1h-1zM1102 285h4v1h-4zM1034 254h7v1h-7zM1068 254h1v1h-1zM1198 386h6v1h-6zM1241 386h4v1h-4zM1268 386h4v1h-4zM1286 386h23v1h-23zM155 558h2v1h-2zM342 384h1v1h-1zM1192 384h2v1h-2zM1275 384h4v1h-4zM1313 384h2v1h-2zM567 434h2v1h-2zM576 434h4v1h-4zM589 434h30v1h-30zM799 295h2v1h-2zM1131 295h1v1h-1zM846 274h1v1h-1zM883 274h2v1h-2zM943 274h11v1h-11zM971 274h25v1h-25zM1084 274h2v1h-2zM506 422h30v1h-30zM824 279h1v1h-1zM851 279h2v1h-2zM875 279h2v1h-2zM894 279h2v1h-2zM900 279h4v1h-4zM1090 279h2v1h-2zM228 519h1v1h-1zM557 429h2v1h-2zM1194 385h4v1h-4zM1204 385h37v1h-37zM1272 385h3v1h-3zM1279 385h7v1h-7zM1309 385h4v1h-4zM177 568h4v1h-4zM188 568h2v1h-2zM402 342h10v1h-10zM705 342h1v1h-1zM757 326h2v1h-2zM1427 326h2v1h-2zM425 349h6v1h-6zM453 349h4v1h-4zM713 349h1v1h-1zM743 349h1v1h-1zM1164 349h1v1h-1zM1337 349h1v1h-1zM674 316h3v1h-3zM689 316h1v1h-1zM769 316h1v1h-1zM1146 316h1v1h-1zM1389 316h4v1h-4zM1445 316h1v1h-1zM315 396h8v1h-8zM485 396h1v1h-1zM385 345h6v1h-6zM396 345h2v1h-2zM416 345h2v1h-2zM708 345h1v1h-1zM0 116h2v1h-2zM32 116h1v1h-1zM828 273h1v1h-1zM845 273h1v1h-1zM954 273h17v1h-17zM996 273h2v1h-2zM1083 273h1v1h-1zM1047 250h2v1h-2zM1063 250h1v1h-1zM1045 251h2v1h-2zM1064 251h2v1h-2zM1415 334h4v1h-4zM475 388h1v1h-1zM1249 388h14v1h-14zM499 414h1v1h-1zM2 115h2v1h-2zM30 115h2v1h-2zM559 430h2v1h-2zM381 346h4v1h-4zM391 346h5v1h-5zM418 346h2v1h-2zM709 346h2v1h-2zM500 415h1v1h-1zM858 284h10v1h-10zM1100 284h2v1h-2zM1177 370h1v1h-1zM791 299h2v1h-2zM759 325h1v1h-1zM1400 325h1v1h-1zM1429 325h2v1h-2zM1178 371h1v1h-1zM801 294h4v1h-4zM1130 294h1v1h-1zM330 390h9v1h-9zM478 390h2v1h-2zM838 267h2v1h-2zM1008 267h2v1h-2zM778 308h1v1h-1zM1362 308h1v1h-1zM722 356h10v1h-10zM1331 356h1v1h-1zM849 277h1v1h-1zM878 277h2v1h-2zM889 277h3v1h-3zM908 277h3v1h-3zM1088 277h1v1h-1zM812 291h2v1h-2zM1121 291h3v1h-3zM760 324h1v1h-1zM1399 324h1v1h-1zM1431 324h1v1h-1zM348 379h2v1h-2zM1185 379h1v1h-1zM1319 379h1v1h-1zM768 317h1v1h-1zM1147 317h1v1h-1zM1393 317h2v1h-2zM1443 317h2v1h-2zM857 283h1v1h-1zM868 283h2v1h-2zM1098 283h2v1h-2zM164 563h2v1h-2zM197 563h4v1h-4zM329 391h1v1h-1zM480 391h2v1h-2zM1019 256h4v1h-4zM1070 256h2v1h-2zM340 387h1v1h-1zM1245 387h4v1h-4zM1263 387h5v1h-5zM296 455h2v1h-2zM843 271h1v1h-1zM1000 271h2v1h-2zM1081 271h1v1h-1zM853 280h1v1h-1zM874 280h1v1h-1zM896 280h4v1h-4zM1092 280h2v1h-2zM718 353h1v1h-1zM737 353h2v1h-2zM166 564h2v1h-2zM194 564h3v1h-3zM375 351h1v1h-1zM715 351h2v1h-2zM740 351h1v1h-1zM1335 351h1v1h-1zM681 314h4v1h-4zM771 314h1v1h-1zM1355 314h1v1h-1zM1381 314h4v1h-4zM1447 314h2v1h-2zM779 307h2v1h-2zM1363 307h2v1h-2zM400 343h2v1h-2zM412 343h2v1h-2zM706 343h1v1h-1zM717 352h1v1h-1zM739 352h1v1h-1zM809 292h3v1h-3zM1124 292h4v1h-4zM368 361h1v1h-1zM294 456h2v1h-2zM376 350h1v1h-1zM431 350h22v1h-22zM714 350h1v1h-1zM741 350h2v1h-2zM1336 350h1v1h-1zM826 276h1v1h-1zM848 276h1v1h-1zM880 276h1v1h-1zM887 276h2v1h-2zM911 276h2v1h-2zM927 276h13v1h-13zM1087 276h1v1h-1zM1049 249h2v1h-2zM1057 249h6v1h-6zM775 311h1v1h-1zM1359 311h1v1h-1zM378 347h3v1h-3zM420 347h3v1h-3zM711 347h1v1h-1zM745 347h1v1h-1zM677 315h4v1h-4zM685 315h4v1h-4zM770 315h1v1h-1zM1385 315h4v1h-4zM1446 315h1v1h-1zM8 112h2v1h-2zM17 112h7v1h-7zM1179 372h1v1h-1zM701 339h2v1h-2zM423 348h2v1h-2zM457 348h1v1h-1zM712 348h1v1h-1zM744 348h1v1h-1zM1163 348h1v1h-1zM1180 373h1v1h-1zM488 400h1v1h-1zM639 400h2v1h-2zM816 289h2v1h-2zM1116 289h3v1h-3zM237 505h1v1h-1zM181 569h4v1h-4zM187 569h1v1h-1zM1408 332h2v1h-2zM1420 332h1v1h-1zM252 499h3v1h-3zM263 499h2v1h-2zM829 272h1v1h-1zM844 272h1v1h-1zM998 272h2v1h-2zM1082 272h1v1h-1zM362 369h1v1h-1zM1176 369h1v1h-1zM1015 260h1v1h-1zM832 268h1v1h-1zM840 268h1v1h-1zM1006 268h2v1h-2zM834 265h1v1h-1zM836 265h1v1h-1zM1011 265h1v1h-1zM539 424h3v1h-3zM373 354h1v1h-1zM719 354h2v1h-2zM735 354h2v1h-2zM1333 354h1v1h-1zM219 527h2v1h-2zM323 395h2v1h-2zM484 395h1v1h-1zM504 420h1v1h-1zM549 427h4v1h-4zM622 427h1v1h-1zM789 301h1v1h-1zM756 327h1v1h-1zM1426 327h1v1h-1zM790 300h1v1h-1zM1135 300h1v1h-1zM764 320h1v1h-1zM1149 320h1v1h-1zM1396 320h1v1h-1zM1438 320h2v1h-2zM761 323h1v1h-1zM1432 323h2v1h-2zM37 121h1v1h-1zM781 306h2v1h-2zM1139 306h1v1h-1zM1365 306h1v1h-1zM1373 306h1v1h-1zM1043 252h2v1h-2zM1066 252h1v1h-1zM553 428h4v1h-4zM344 381h1v1h-1zM352 381h2v1h-2zM1187 381h2v1h-2zM1317 381h1v1h-1zM777 309h1v1h-1zM1141 309h1v1h-1zM1361 309h1v1h-1zM1375 309h1v1h-1zM1023 255h11v1h-11zM1069 255h1v1h-1zM490 403h1v1h-1zM635 403h2v1h-2zM242 497h5v1h-5zM269 497h4v1h-4zM1041 253h2v1h-2zM1067 253h1v1h-1zM763 321h1v1h-1zM1397 321h1v1h-1zM1436 321h2v1h-2zM44 127h2v1h-2zM772 313h1v1h-1zM1144 313h1v1h-1zM1356 313h1v1h-1zM1378 313h3v1h-3zM1449 313h1v1h-1zM786 303h1v1h-1zM1137 303h1v1h-1zM1369 303h1v1h-1zM10 111h7v1h-7zM367 362h1v1h-1zM4 114h2v1h-2zM27 114h3v1h-3zM255 500h2v1h-2zM260 500h3v1h-3zM487 399h1v1h-1zM641 399h1v1h-1zM773 312h2v1h-2zM1143 312h1v1h-1zM1357 312h2v1h-2zM498 413h1v1h-1zM805 293h4v1h-4zM1128 293h2v1h-2zM354 382h1v1h-1zM1189 382h2v1h-2zM1316 382h1v1h-1zM1410 333h5v1h-5zM1419 333h1v1h-1zM854 281h1v1h-1zM872 281h2v1h-2zM1094 281h2v1h-2zM1051 248h6v1h-6zM232 513h1v1h-1zM162 562h2v1h-2zM201 562h1v1h-1zM357 377h1v1h-1zM1183 377h1v1h-1zM704 341h1v1h-1zM1018 257h1v1h-1zM1072 257h1v1h-1zM1013 263h1v1h-1zM168 565h2v1h-2zM192 565h2v1h-2zM787 302h2v1h-2zM1370 302h1v1h-1zM755 328h1v1h-1zM1402 328h1v1h-1zM1425 328h1v1h-1zM700 338h1v1h-1zM818 288h1v1h-1zM1113 288h3v1h-3zM326 393h1v1h-1zM565 433h2v1h-2zM580 433h3v1h-3zM586 433h3v1h-3zM33 117h1v1h-1zM6 113h2v1h-2zM24 113h3v1h-3zM34 118h1v1h-1zM292 457h2v1h-2zM796 296h3v1h-3zM1132 296h1v1h-1zM542 425h3v1h-3zM372 355h1v1h-1zM721 355h1v1h-1zM732 355h3v1h-3zM1332 355h1v1h-1zM545 426h4v1h-4zM398 344h2v1h-2zM414 344h2v1h-2zM707 344h1v1h-1zM476 389h2v1h-2zM784 304h2v1h-2zM1367 304h2v1h-2zM503 419h1v1h-1zM472 383h1v1h-1zM1191 383h1v1h-1zM1315 383h1v1h-1zM831 269h1v1h-1zM841 269h1v1h-1zM1004 269h2v1h-2zM1109 287h4v1h-4zM173 567h4v1h-4zM190 567h1v1h-1zM218 528h1v1h-1zM35 119h1v1h-1zM765 319h2v1h-2zM1440 319h2v1h-2zM36 120h1v1h-1zM569 435h2v1h-2zM573 435h3v1h-3zM783 305h1v1h-1zM1366 305h1v1h-1zM1372 305h1v1h-1zM350 380h2v1h-2zM1186 380h1v1h-1zM1318 380h1v1h-1zM814 290h2v1h-2zM1119 290h2v1h-2zM185 570h2v1h-2zM563 432h2v1h-2zM583 432h3v1h-3zM754 329h1v1h-1zM1403 329h2v1h-2zM1424 329h1v1h-1zM48 129h2v1h-2zM767 318h1v1h-1zM1442 318h1v1h-1zM50 130h1v1h-1zM42 126h2v1h-2zM501 416h1v1h-1zM223 524h2v1h-2zM327 392h2v1h-2zM482 392h1v1h-1zM170 566h3v1h-3zM191 566h1v1h-1zM762 322h1v1h-1zM1434 322h2v1h-2zM835 264h1v1h-1zM1012 264h1v1h-1zM273 496h1v1h-1zM1106 286h3v1h-3zM1405 330h2v1h-2zM1423 330h1v1h-1zM1407 331h1v1h-1zM1421 331h2v1h-2zM247 498h5v1h-5zM265 498h4v1h-4zM794 297h2v1h-2zM1133 297h1v1h-1zM842 270h1v1h-1zM1002 270h2v1h-2zM1080 270h1v1h-1zM46 128h2v1h-2zM822 282h1v1h-1zM855 282h2v1h-2zM870 282h2v1h-2zM1096 282h2v1h-2zM776 310h1v1h-1zM1360 310h1v1h-1zM1376 310h1v1h-1zM226 522h1v1h-1zM837 266h1v1h-1zM1010 266h1v1h-1zM505 421h1v1h-1zM38 122h1v1h-1zM257 501h3v1h-3zM536 423h3v1h-3zM637 402h1v1h-1zM1016 259h1v1h-1zM1074 259h1v1h-1zM40 124h1v1h-1zM41 125h1v1h-1zM234 510h1v1h-1zM1017 258h1v1h-1zM1073 258h1v1h-1zM225 523h1v1h-1zM359 374h1v1h-1zM1181 374h1v1h-1zM291 458h1v1h-1zM494 408h1v1h-1zM1172 364h1v1h-1zM491 404h1v1h-1zM634 404h1v1h-1zM52 133h1v1h-1zM56 139h1v1h-1zM239 502h1v1h-1zM230 516h1v1h-1zM154 557h1v1h-1zM364 366h1v1h-1zM1174 366h1v1h-1zM571 436h2v1h-2zM54 136h1v1h-1zM39 123h1v1h-1zM793 298h1v1h-1zM638 401h1v1h-1zM157 559h2v1h-2zM159 560h1v1h-1zM561 431h2v1h-2zM160 561h2v1h-2zM215 533h1v1h-1zM365 365h1v1h-1zM1173 365h1v1h-1zM493 407h1v1h-1zM222 525h1v1h-1zM703 340h1v1h-1zM325 394h1v1h-1zM495 409h1v1h-1zM699 337h1v1h-1zM370 358h1v1h-1zM497 412h1v1h-1zM221 526h1v1h-1z"/>
<g shape-rendering="crispEdges" fill="#000">
<rect x="18" y="106" width="1" height="22"/><rect x="16" y="108" width="5" height="2"/>
<rect x="26" y="98" width="1" height="32"/><rect x="24" y="100" width="5" height="27"/><rect x="25" y="101" width="3" height="25" fill="#fff"/>
<rect x="34" y="104" width="1" height="4"/><rect x="32" y="106" width="5" height="1"/>
<rect x="42" y="104" width="1" height="21"/><rect x="40" y="107" width="5" height="3"/>
<rect x="58" y="100" width="1" height="22"/><rect x="56" y="100" width="5" height="22"/>
<rect x="66" y="185" width="1" height="41"/><rect x="64" y="197" width="5" height="26"/>
<rect x="74" y="160" width="1" height="55"/><rect x="72" y="170" width="5" height="28"/><rect x="73" y="171" width="3" height="26" fill="#fff"/>
<rect x="82" y="168" width="1" height="35"/><rect x="80" y="171" width="5" height="27"/>
<rect x="90" y="236" width="1" height="61"/><rect x="88" y="238" width="5" height="53"/>
<rect x="98" y="281" width="1" height="180"/><rect x="96" y="307" width="5" height="120"/><rect x="97" y="308" width="3" height="118" fill="#fff"/>
<rect x="106" y="336" width="1" height="76"/><rect x="104" y="379" width="5" height="30"/>
<rect x="114" y="350" width="1" height="72"/><rect x="112" y="382" width="5" height="22"/><rect x="113" y="383" width="3" height="20" fill="#fff"/>
<rect x="122" y="351" width="1" height="120"/><rect x="120" y="415" width="5" height="56"/>
<rect x="130" y="440" width="1" height="122"/><rect x="128" y="470" width="5" height="15"/>
<rect x="138" y="375" width="1" height="90"/><rect x="136" y="378" width="5" height="88"/><rect x="137" y="379" width="3" height="86" fill="#fff"/>
<rect x="146" y="465" width="1" height="68"/><rect x="144" y="514" width="5" height="19"/><rect x="145" y="515" width="3" height="17" fill="#fff"/>
<rect x="154" y="402" width="1" height="39"/><rect x="152" y="407" width="5" height="21"/><rect x="153" y="408" width="3" height="19" fill="#fff"/>
<rect x="162" y="328" width="1" height="54"/><rect x="160" y="330" width="5" height="33"/><rect x="161" y="331" width="3" height="31" fill="#fff"/>
<rect x="170" y="335" width="1" height="41"/><rect x="168" y="344" width="5" height="24"/>
<rect x="178" y="310" width="1" height="48"/><rect x="176" y="310" width="5" height="32"/>
<rect x="186" y="338" width="1" height="67"/><rect x="184" y="383" width="5" height="23"/><rect x="185" y="384" width="3" height="21" fill="#fff"/>
<rect x="194" y="318" width="1" height="48"/><rect x="192" y="322" width="5" height="16"/><rect x="193" y="323" width="3" height="14" fill="#fff"/>
<rect x="202" y="335" width="1" height="59"/><rect x="200" y="353" width="5" height="37"/>
<rect x="210" y="359" width="1" height="57"/><rect x="208" y="360" width="5" height="55"/><rect x="209" y="361" width="3" height="53" fill="#fff"/>
<rect x="218" y="362" width="1" height="22"/><rect x="216" y="366" width="5" height="15"/><rect x="217" y="367" width="3" height="13" fill="#fff"/>
<rect x="226" y="308" width="1" height="51"/><rect x="224" y="319" width="5" height="2"/>
<rect x="234" y="258" width="1" height="61"/><rect x="232" y="260" width="5" height="36"/><rect x="233" y="261" width="3" height="34" fill="#fff"/>
<rect x="242" y="277" width="1" height="40"/><rect x="240" y="292" width="5" height="25"/>
<rect x="250" y="266" width="1" height="29"/><rect x="248" y="278" width="5" height="1"/>
<rect x="258" y="244" width="1" height="32"/><rect x="256" y="261" width="5" height="12"/><rect x="257" y="262" width="3" height="10" fill="#fff"/>
<rect x="266" y="243" width="1" height="52"/><rect x="264" y="260" width="5" height="34"/>
<rect x="274" y="285" width="1" height="27"/><rect x="272" y="301" width="5" height="3"/><rect x="273" y="302" width="3" height="1" fill="#fff"/>
<rect x="282" y="237" width="1" height="37"/><rect x="280" y="252" width="5" height="15"/>
<rect x="290" y="255" width="1" height="27"/><rect x="288" y="270" width="5" height="3"/>
<rect x="298" y="275" width="1" height="54"/><rect x="296" y="283" width="5" height="37"/>
<rect x="306" y="302" width="1" height="44"/><rect x="304" y="308" width="5" height="33"/><rect x="305" y="309" width="3" height="31" fill="#fff"/>
<rect x="314" y="288" width="1" height="29"/><rect x="312" y="297" width="5" height="6"/><rect x="313" y="298" width="3" height="4" fill="#fff"/>
<rect x="322" y="312" width="1" height="23"/><rect x="320" y="320" width="5" height="1"/>
<rect x="330" y="276" width="1" height="30"/><rect x="328" y="280" width="5" height="26"/><rect x="329" y="281" width="3" height="24" fill="#fff"/>
<rect x="338" y="246" width="1" height="46"/><rect x="336" y="246" width="5" height="25"/><rect x="337" y="247" width="3" height="23" fill="#fff"/>
<rect x="346" y="229" width="1" height="30"/><rect x="344" y="244" width="5" height="9"/>
<rect x="354" y="320" width="1" height="38"/><rect x="352" y="323" width="5" height="29"/>
<rect x="362" y="314" width="1" height="24"/><rect x="360" y="317" width="5" height="15"/><rect x="361" y="318" width="3" height="13" fill="#fff"/>
<rect x="370" y="285" width="1" height="45"/><rect x="368" y="292" width="5" height="38"/><rect x="369" y="293" width="3" height="36" fill="#fff"/>
<rect x="378" y="299" width="1" height="18"/><rect x="376" y="304" width="5" height="6"/>
<rect x="386" y="280" width="1" height="17"/><rect x="384" y="286" width="5" height="5"/><rect x="385" y="287" width="3" height="3" fill="#fff"/>
<rect x="394" y="235" width="1" height="36"/><rect x="392" y="254" width="5" height="14"/><rect x="393" y="255" width="3" height="12" fill="#fff"/>
<rect x="402" y="269" width="1" height="28"/><rect x="400" y="276" width="5" height="7"/>
<rect x="410" y="275" width="1" height="33"/><rect x="408" y="290" width="5" height="13"/><rect x="409" y="291" width="3" height="11" fill="#fff"/>
<rect x="418" y="299" width="1" height="30"/><rect x="416" y="301" width="5" height="24"/>
<rect x="426" y="304" width="1" height="33"/><rect x="424" y="315" width="5" height="11"/>
<rect x="434" y="302" width="1" height="29"/><rect x="432" y="303" width="5" height="29"/><rect x="433" y="304" width="3" height="27" fill="#fff"/>
<rect x="442" y="249" width="1" height="27"/><rect x="440" y="266" width="5" height="5"/><rect x="441" y="267" width="3" height="3" fill="#fff"/>
<rect x="450" y="254" width="1" height="20"/><rect x="448" y="258" width="5" height="12"/><rect x="449" y="259" width="3" height="10" fill="#fff"/>
<rect x="458" y="255" width="1" height="32"/><rect x="456" y="263" width="5" height="23"/>
<rect x="466" y="322" width="1" height="88"/><rect x="464" y="322" width="5" height="88"/>
<rect x="474" y="388" width="1" height="40"/><rect x="472" y="394" width="5" height="9"/><rect x="473" y="395" width="3" height="7" fill="#fff"/>
<rect x="482" y="342" width="1" height="29"/><rect x="480" y="353" width="5" height="19"/><rect x="481" y="354" width="3" height="17" fill="#fff"/>
<rect x="490" y="357" width="1" height="36"/><rect x="488" y="366" width="5" height="20"/>
<rect x="498" y="363" width="1" height="62"/><rect x="496" y="388" width="5" height="6"/>
<rect x="506" y="394" width="1" height="43"/><rect x="504" y="404" width="5" height="13"/><rect x="505" y="405" width="3" height="11" fill="#fff"/>
<rect x="514" y="326" width="1" height="44"/><rect x="512" y="346" width="5" height="25"/><rect x="513" y="347" width="3" height="23" fill="#fff"/>
<rect x="522" y="300" width="1" height="39"/><rect x="520" y="302" width="5" height="29"/><rect x="521" y="303" width="3" height="27" fill="#fff"/>
<rect x="530" y="265" width="1" height="25"/><rect x="528" y="265" width="5" height="11"/>
<rect x="538" y="246" width="1" height="41"/><rect x="536" y="249" width="5" height="23"/>
<rect x="546" y="228" width="1" height="54"/><rect x="544" y="235" width="5" height="40"/><rect x="545" y="236" width="3" height="38" fill="#fff"/>
<rect x="554" y="210" width="1" height="35"/><rect x="552" y="214" width="5" height="18"/>
<rect x="562" y="193" width="1" height="41"/><rect x="560" y="222" width="5" height="7"/><rect x="561" y="223" width="3" height="5" fill="#fff"/>
<rect x="570" y="187" width="1" height="33"/><rect x="568" y="208" width="5" height="1"/>
<rect x="578" y="208" width="1" height="61"/><rect x="576" y="217" width="5" height="49"/>
<rect x="586" y="276" width="1" height="40"/><rect x="584" y="277" width="5" height="30"/><rect x="585" y="278" width="3" height="28" fill="#fff"/>
<rect x="594" y="283" width="1" height="53"/><rect x="592" y="306" width="5" height="17"/>
<rect x="602" y="255" width="1" height="24"/><rect x="600" y="265" width="5" height="1"/>
<rect x="610" y="255" width="1" height="35"/><rect x="608" y="261" width="5" height="8"/><rect x="609" y="262" width="3" height="6" fill="#fff"/>
<rect x="618" y="258" width="1" height="38"/><rect x="616" y="268" width="5" height="7"/><rect x="617" y="269" width="3" height="5" fill="#fff"/>
<rect x="626" y="233" width="1" height="44"/><rect x="624" y="243" width="5" height="29"/><rect x="625" y="244" width="3" height="27" fill="#fff"/>
<rect x="634" y="242" width="1" height="23"/><rect x="632" y="257" width="5" height="9"/><rect x="633" y="258" width="3" height="7" fill="#fff"/>
<rect x="642" y="211" width="1" height="73"/><rect x="640" y="213" width="5" height="29"/><rect x="641" y="214" width="3" height="27" fill="#fff"/>
<rect x="650" y="213" width="1" height="44"/><rect x="648" y="219" width="5" height="32"/>
<rect x="658" y="246" width="1" height="27"/><rect x="656" y="268" width="5" height="6"/><rect x="657" y="269" width="3" height="4" fill="#fff"/>
<rect x="666" y="260" width="1" height="44"/><rect x="664" y="274" width="5" height="19"/>
<rect x="674" y="260" width="1" height="32"/><rect x="672" y="265" width="5" height="11"/>
<rect x="682" y="197" width="1" height="68"/><rect x="680" y="198" width="5" height="59"/><rect x="681" y="199" width="3" height="57" fill="#fff"/>
<rect x="690" y="173" width="1" height="30"/><rect x="688" y="183" width="5" height="21"/><rect x="689" y="184" width="3" height="19" fill="#fff"/>
<rect x="698" y="83" width="1" height="83"/><rect x="696" y="93" width="5" height="73"/><rect x="697" y="94" width="3" height="71" fill="#fff"/>
<rect x="706" y="53" width="1" height="76"/><rect x="704" y="67" width="5" height="59"/>
<rect x="714" y="93" width="1" height="40"/><rect x="712" y="112" width="5" height="6"/>
<rect x="722" y="88" width="1" height="35"/><rect x="720" y="97" width="5" height="4"/>
<rect x="730" y="107" width="1" height="55"/><rect x="728" y="120" width="5" height="30"/>
<rect x="738" y="112" width="1" height="35"/><rect x="736" y="136" width="5" height="9"/>
<rect x="746" y="150" width="1" height="38"/><rect x="744" y="153" width="5" height="11"/>
<rect x="754" y="131" width="1" height="52"/><rect x="752" y="142" width="5" height="25"/>
<rect x="762" y="155" width="1" height="65"/><rect x="760" y="159" width="5" height="59"/>
<rect x="770" y="187" width="1" height="22"/><rect x="768" y="195" width="5" height="1"/>
<rect x="778" y="191" width="1" height="43"/><rect x="776" y="207" width="5" height="4"/><rect x="777" y="208" width="3" height="2" fill="#fff"/>
<rect x="786" y="153" width="1" height="28"/><rect x="784" y="156" width="5" height="20"/><rect x="785" y="157" width="3" height="18" fill="#fff"/>
<rect x="794" y="140" width="1" height="70"/><rect x="792" y="163" width="5" height="37"/>
<rect x="802" y="181" width="1" height="32"/><rect x="800" y="188" width="5" height="11"/><rect x="801" y="189" width="3" height="9" fill="#fff"/>
<rect x="810" y="200" width="1" height="47"/><rect x="808" y="209" width="5" height="28"/>
<rect x="818" y="212" width="1" height="38"/><rect x="816" y="217" width="5" height="25"/>
<rect x="826" y="210" width="1" height="31"/><rect x="824" y="214" width="5" height="18"/>
<rect x="834" y="219" width="1" height="22"/><rect x="832" y="221" width="5" height="14"/><rect x="833" y="222" width="3" height="12" fill="#fff"/>
<rect x="842" y="193" width="1" height="57"/><rect x="840" y="217" width="5" height="25"/>
<rect x="850" y="215" width="1" height="40"/><rect x="848" y="233" width="5" height="16"/>
<rect x="858" y="244" width="1" height="37"/><rect x="856" y="246" width="5" height="18"/>
<rect x="866" y="203" width="1" height="52"/><rect x="864" y="215" width="5" height="30"/><rect x="865" y="216" width="3" height="28" fill="#fff"/>
<rect x="874" y="194" width="1" height="30"/><rect x="872" y="205" width="5" height="10"/><rect x="873" y="206" width="3" height="8" fill="#fff"/>
<rect x="882" y="189" width="1" height="56"/><rect x="880" y="199" width="5" height="27"/>
<rect x="890" y="216" width="1" height="68"/><rect x="888" y="219" width="5" height="44"/>
<rect x="898" y="252" width="1" height="27"/><rect x="896" y="261" width="5" height="19"/><rect x="897" y="262" width="3" height="17" fill="#fff"/>
<rect x="906" y="206" width="1" height="45"/><rect x="904" y="218" width="5" height="33"/><rect x="905" y="219" width="3" height="31" fill="#fff"/>
<rect x="914" y="183" width="1" height="57"/><rect x="912" y="188" width="5" height="40"/><rect x="913" y="189" width="3" height="38" fill="#fff"/>
<rect x="922" y="169" width="1" height="33"/><rect x="920" y="176" width="5" height="23"/>
<rect x="930" y="178" width="1" height="29"/><rect x="928" y="198" width="5" height="5"/>
<rect x="938" y="159" width="1" height="38"/><rect x="936" y="184" width="5" height="10"/><rect x="937" y="185" width="3" height="8" fill="#fff"/>
<rect x="946" y="171" width="1" height="20"/><rect x="944" y="177" width="5" height="4"/>
<rect x="954" y="179" width="1" height="27"/><rect x="952" y="190" width="5" height="9"/>
<rect x="962" y="210" width="1" height="40"/><rect x="960" y="210" width="5" height="28"/>
<rect x="970" y="193" width="1" height="31"/><rect x="968" y="204" width="5" height="16"/><rect x="969" y="205" width="3" height="14" fill="#fff"/>
<rect x="978" y="161" width="1" height="30"/><rect x="976" y="165" width="5" height="27"/><rect x="977" y="166" width="3" height="25" fill="#fff"/>
<rect x="986" y="155" width="1" height="26"/><rect x="984" y="160" width="5" height="11"/>
<rect x="994" y="157" width="1" height="26"/><rect x="992" y="162" width="5" height="10"/>
<rect x="1002" y="170" width="1" height="33"/><rect x="1000" y="170" width="5" height="28"/>
<rect x="1010" y="147" width="1" height="53"/><rect x="1008" y="178" width="5" height="19"/><rect x="1009" y="179" width="3" height="17" fill="#fff"/>
<rect x="1018" y="141" width="1" height="71"/><rect x="1016" y="159" width="5" height="44"/>
<rect x="1026" y="191" width="1" height="31"/><rect x="1024" y="203" width="5" height="4"/><rect x="1025" y="204" width="3" height="2" fill="#fff"/>
<rect x="1034" y="193" width="1" height="32"/><rect x="1032" y="202" width="5" height="3"/>
<rect x="1042" y="194" width="1" height="35"/><rect x="1040" y="210" width="5" height="7"/>
<rect x="1050" y="227" width="1" height="34"/><rect x="1048" y="239" width="5" height="1"/>
<rect x="1058" y="220" width="1" height="40"/><rect x="1056" y="238" width="5" height="14"/>
<rect x="1066" y="230" width="1" height="42"/><rect x="1064" y="238" width="5" height="17"/>
<rect x="1074" y="255" width="1" height="30"/><rect x="1072" y="260" width="5" height="16"/><rect x="1073" y="261" width="3" height="14" fill="#fff"/>
<rect x="1082" y="246" width="1" height="33"/><rect x="1080" y="246" width="5" height="31"/>
<rect x="1090" y="250" width="1" height="27"/><rect x="1088" y="257" width="5" height="15"/><rect x="1089" y="258" width="3" height="13" fill="#fff"/>
<rect x="1098" y="233" width="1" height="23"/><rect x="1096" y="246" width="5" height="4"/>
<rect x="1106" y="228" width="1" height="32"/><rect x="1104" y="231" width="5" height="24"/><rect x="1105" y="232" width="3" height="22" fill="#fff"/>
<rect x="1114" y="223" width="1" height="22"/><rect x="1112" y="228" width="5" height="7"/>
<rect x="1122" y="236" width="1" height="44"/><rect x="1120" y="249" width="5" height="19"/>
<rect x="1130" y="256" width="1" height="19"/><rect x="1128" y="256" width="5" height="10"/><rect x="1129" y="257" width="3" height="8" fill="#fff"/>
<rect x="1138" y="246" width="1" height="63"/><rect x="1136" y="261" width="5" height="46"/>
<rect x="1146" y="306" width="1" height="24"/><rect x="1144" y="306" width="5" height="21"/>
<rect x="1154" y="317" width="1" height="23"/><rect x="1152" y="323" width="5" height="5"/><rect x="1153" y="324" width="3" height="3" fill="#fff"/>
<rect x="1162" y="334" width="1" height="36"/><rect x="1160" y="342" width="5" height="19"/>
<rect x="1170" y="343" width="1" height="33"/><rect x="1168" y="346" width="5" height="26"/>
<rect x="1178" y="343" width="1" height="24"/><rect x="1176" y="349" width="5" height="17"/><rect x="1177" y="350" width="3" height="15" fill="#fff"/>
<rect x="1186" y="332" width="1" height="35"/><rect x="1184" y="333" width="5" height="28"/>
<rect x="1194" y="316" width="1" height="40"/><rect x="1192" y="346" width="5" height="1"/>
<rect x="1202" y="300" width="1" height="30"/><rect x="1200" y="304" width="5" height="15"/>
<rect x="1210" y="298" width="1" height="17"/><rect x="1208" y="301" width="5" height="7"/><rect x="1209" y="302" width="3" height="5" fill="#fff"/>
<rect x="1218" y="273" width="1" height="35"/><rect x="1216" y="281" width="5" height="26"/><rect x="1217" y="282" width="3" height="24" fill="#fff"/>
<rect x="1226" y="279" width="1" height="19"/><rect x="1224" y="279" width="5" height="9"/>
<rect x="1234" y="264" width="1" height="32"/><rect x="1232" y="272" width="5" height="22"/>
<rect x="1242" y="234" width="1" height="50"/><rect x="1240" y="238" width="5" height="45"/><rect x="1241" y="239" width="3" height="43" fill="#fff"/>
<rect x="1250" y="236" width="1" height="1"/><rect x="1248" y="236" width="5" height="1"/>
<rect x="1258" y="227" width="1" height="29"/><rect x="1256" y="227" width="5" height="17"/>
<rect x="1266" y="247" width="1" height="45"/><rect x="1264" y="257" width="5" height="33"/>
<rect x="1274" y="258" width="1" height="24"/><rect x="1272" y="265" width="5" height="9"/><rect x="1273" y="266" width="3" height="7" fill="#fff"/>
<rect x="1282" y="230" width="1" height="30"/><rect x="1280" y="250" width="5" height="4"/><rect x="1281" y="251" width="3" height="2" fill="#fff"/>
<rect x="1290" y="246" width="1" height="15"/><rect x="1288" y="252" width="5" height="1"/>
<rect x="1298" y="219" width="1" height="27"/><rect x="1296" y="241" width="5" height="6"/><rect x="1297" y="242" width="3" height="4" fill="#fff"/>
<rect x="1306" y="220" width="1" height="32"/><rect x="1304" y="221" width="5" height="24"/><rect x="1305" y="222" width="3" height="22" fill="#fff"/>
<rect x="1314" y="212" width="1" height="29"/><rect x="1312" y="216" width="5" height="15"/><rect x="1313" y="217" width="3" height="13" fill="#fff"/>
<rect x="1322" y="223" width="1" height="25"/><rect x="1320" y="231" width="5" height="4"/>
<rect x="1330" y="227" width="1" height="24"/><rect x="1328" y="235" width="5" height="13"/>
<rect x="1338" y="243" width="1" height="36"/><rect x="1336" y="253" width="5" height="13"/><rect x="1337" y="254" width="3" height="11" fill="#fff"/>
<rect x="1346" y="249" width="1" height="52"/><rect x="1344" y="267" width="5" height="15"/>
<rect x="1354" y="259" width="1" height="24"/><rect x="1352" y="267" width="5" height="17"/><rect x="1353" y="268" width="3" height="15" fill="#fff"/>
<rect x="1362" y="206" width="1" height="38"/><rect x="1360" y="207" width="5" height="38"/><rect x="1361" y="208" width="3" height="36" fill="#fff"/>
<rect x="1370" y="204" width="1" height="39"/><rect x="1368" y="215" width="5" height="15"/><rect x="1369" y="216" width="3" height="13" fill="#fff"/>
<rect x="1378" y="138" width="1" height="46"/><rect x="1376" y="138" width="5" height="33"/><rect x="1377" y="139" width="3" height="31" fill="#fff"/>
<rect x="1386" y="138" width="1" height="25"/><rect x="1384" y="138" width="5" height="9"/>
<rect x="1394" y="103" width="1" height="24"/><rect x="1392" y="104" width="5" height="16"/>
<rect x="1402" y="86" width="1" height="31"/><rect x="1400" y="88" width="5" height="3"/>
<rect x="1410" y="86" width="1" height="21"/><rect x="1408" y="99" width="5" height="2"/>
<rect x="1418" y="79" width="1" height="37"/><rect x="1416" y="91" width="5" height="13"/>
<rect x="1426" y="105" width="1" height="25"/><rect x="1424" y="106" width="5" height="7"/><rect x="1425" y="107" width="3" height="5" fill="#fff"/>
<rect x="1434" y="86" width="1" height="19"/><rect x="1432" y="86" width="5" height="4"/>
<rect x="1442" y="76" width="1" height="15"/><rect x="1440" y="76" width="5" height="4"/>
<rect x="1450" y="66" width="1" height="25"/><rect x="1448" y="73" width="5" height="16"/><rect x="1449" y="74" width="3" height="14" fill="#fff"/>
</g>
<g shape-rendering="crispEdges" fill="#ff0000"><rect x="697" y="53" width="10" height="1"/><rect x="553" y="185" width="10" height="1"/><rect x="1018" y="140" width="12" height="1"/><rect x="1018" y="140" width="1" height="3"/><rect x="1161" y="373" width="10" height="1"/><rect x="1336" y="300" width="11" height="1"/><rect x="1251" y="84" width="8" height="1"/><rect x="1258" y="82" width="3" height="5"/><rect x="1259" y="83" width="1" height="3" fill="#fff"/></g>
<rect x="635.5" y="44.5" width="61" height="17" fill="#fff" stroke="#ff0000" stroke-width="1" shape-rendering="crispEdges"/><text x="637.2" y="59.7" font-size="16.5" fill="#ff0000" textLength="57.5" lengthAdjust="spacingAndGlyphs">26779.3</text>
<rect x="491.5" y="176.5" width="61" height="18" fill="#fff" stroke="#ff0000" stroke-width="1" shape-rendering="crispEdges"/><text x="493.2" y="192.2" font-size="16.5" fill="#ff0000" textLength="57.5" lengthAdjust="spacingAndGlyphs">25270.2</text>
<rect x="1029.5" y="132.5" width="61" height="17" fill="#fff" stroke="#ff0000" stroke-width="1" shape-rendering="crispEdges"/><text x="1031.2" y="147.7" font-size="16.5" fill="#ff0000" textLength="57.5" lengthAdjust="spacingAndGlyphs">25785.8</text>
<rect x="1099.5" y="364.5" width="61" height="18" fill="#fff" stroke="#ff0000" stroke-width="1" shape-rendering="crispEdges"/><text x="1101.0" y="380.2" font-size="16.5" fill="#ff0000" textLength="58" lengthAdjust="spacingAndGlyphs">23117.2</text>
<rect x="1275.5" y="291.5" width="61" height="18" fill="#fff" stroke="#ff0000" stroke-width="1" shape-rendering="crispEdges"/><text x="1277.2" y="307.2" font-size="16.5" fill="#ff0000" textLength="57.5" lengthAdjust="spacingAndGlyphs">23953.1</text>
<rect x="1261.5" y="72.5" width="73" height="24" fill="#fff" stroke="#ff0000" stroke-width="1" shape-rendering="crispEdges"/><text x="1263.0" y="92.2" font-size="21.5" fill="#ff0000" textLength="70" lengthAdjust="spacingAndGlyphs">26423.3</text>
<rect x="1499.5" y="83.5" width="110" height="24" fill="none" stroke="#404040" stroke-width="1" shape-rendering="crispEdges"/>
<text x="1501" y="103" font-size="20" fill="#00ff00" style="font-family:'Noto Serif CJK SC','Noto Sans CJK SC',serif;font-weight:300" textLength="106" lengthAdjust="spacing">多空转折点</text>
<line x1="1334.6" y1="282" x2="1467.5" y2="51" stroke="#ff0000" stroke-width="3.2"/>
<path d="M1460.8 55.6L1468.5 49.6L1467.2 59.6" fill="none" stroke="#ff0000" stroke-width="2.6" stroke-linejoin="round"/>
<rect x="1379" y="80" width="108" height="6" fill="#00ff00" shape-rendering="crispEdges"/>
<polygon points="1458,22 1469,22 1463.5,27.5" fill="#c0c0c0"/>
<g shape-rendering="crispEdges" fill="#000">
<rect x="0" y="21" width="1685" height="1"/><rect x="1684" y="21" width="1" height="902"/><rect x="0" y="574" width="1685" height="1"/><rect x="0" y="576" width="1685" height="1"/><rect x="0" y="746" width="1685" height="1"/><rect x="0" y="748" width="1685" height="1"/><rect x="0" y="922" width="1685" height="1"/><rect x="1684" y="575" width="1" height="1" fill="#fff"/><rect x="1684" y="747" width="1" height="1" fill="#fff"/><rect x="1685" y="43" width="3" height="1"/><rect x="1685" y="76" width="3" height="1"/><rect x="1685" y="109" width="3" height="1"/><rect x="1685" y="142" width="3" height="1"/><rect x="1685" y="175" width="3" height="1"/><rect x="1685" y="208" width="3" height="1"/><rect x="1685" y="241" width="3" height="1"/><rect x="1685" y="274" width="3" height="1"/><rect x="1685" y="307" width="3" height="1"/><rect x="1685" y="340" width="3" height="1"/><rect x="1685" y="373" width="3" height="1"/><rect x="1685" y="406" width="3" height="1"/><rect x="1685" y="439" width="3" height="1"/><rect x="1685" y="472" width="3" height="1"/><rect x="1685" y="505" width="3" height="1"/><rect x="1685" y="538" width="3" height="1"/><rect x="1685" y="571" width="3" height="1"/><rect x="1685" y="577" width="2" height="1"/><rect x="1685" y="630" width="2" height="1"/><rect x="1685" y="745" width="2" height="1"/><rect x="1685" y="784" width="2" height="1"/><rect x="1685" y="835" width="2" height="1"/><rect x="1685" y="896" width="2" height="1"/><rect x="58" y="923" width="1" height="3"/><rect x="122" y="923" width="1" height="3"/><rect x="186" y="923" width="1" height="3"/><rect x="250" y="923" width="1" height="3"/><rect x="314" y="923" width="1" height="3"/><rect x="378" y="923" width="1" height="3"/><rect x="442" y="923" width="1" height="3"/><rect x="506" y="923" width="1" height="3"/><rect x="570" y="923" width="1" height="3"/><rect x="634" y="923" width="1" height="3"/><rect x="698" y="923" width="1" height="3"/><rect x="762" y="923" width="1" height="3"/><rect x="826" y="923" width="1" height="3"/><rect x="890" y="923" width="1" height="3"/><rect x="954" y="923" width="1" height="3"/><rect x="1018" y="923" width="1" height="3"/><rect x="1082" y="923" width="1" height="3"/><rect x="1146" y="923" width="1" height="3"/><rect x="1210" y="923" width="1" height="3"/><rect x="1274" y="923" width="1" height="3"/><rect x="1338" y="923" width="1" height="3"/><rect x="1402" y="923" width="1" height="3"/>
</g>
<text x="1690" y="46.1" font-size="9.5" fill="#000" textLength="33" lengthAdjust="spacingAndGlyphs">26897.0</text><text x="1690" y="79.1" font-size="9.5" fill="#000" textLength="33" lengthAdjust="spacingAndGlyphs">26523.0</text><text x="1690" y="112.1" font-size="9.5" fill="#000" textLength="33" lengthAdjust="spacingAndGlyphs">26138.0</text><text x="1690" y="145.1" font-size="9.5" fill="#000" textLength="33" lengthAdjust="spacingAndGlyphs">25764.0</text><text x="1690" y="178.1" font-size="9.5" fill="#000" textLength="33" lengthAdjust="spacingAndGlyphs">25379.0</text><text x="1690" y="211.1" font-size="9.5" fill="#000" textLength="33" lengthAdjust="spacingAndGlyphs">25005.0</text><text x="1690" y="244.1" font-size="9.5" fill="#000" textLength="33" lengthAdjust="spacingAndGlyphs">24631.0</text><text x="1690" y="277.1" font-size="9.5" fill="#000" textLength="33" lengthAdjust="spacingAndGlyphs">24246.0</text><text x="1690" y="310.1" font-size="9.5" fill="#000" textLength="33" lengthAdjust="spacingAndGlyphs">23872.0</text><text x="1690" y="343.1" font-size="9.5" fill="#000" textLength="33" lengthAdjust="spacingAndGlyphs">23487.0</text><text x="1690" y="376.1" font-size="9.5" fill="#000" textLength="33" lengthAdjust="spacingAndGlyphs">23113.0</text><text x="1690" y="409.1" font-size="9.5" fill="#000" textLength="33" lengthAdjust="spacingAndGlyphs">22739.0</text><text x="1690" y="442.1" font-size="9.5" fill="#000" textLength="33" lengthAdjust="spacingAndGlyphs">22354.0</text><text x="1690" y="475.1" font-size="9.5" fill="#000" textLength="33" lengthAdjust="spacingAndGlyphs">21980.0</text><text x="1690" y="508.1" font-size="9.5" fill="#000" textLength="33" lengthAdjust="spacingAndGlyphs">21595.0</text><text x="1690" y="541.1" font-size="9.5" fill="#000" textLength="33" lengthAdjust="spacingAndGlyphs">21221.0</text><text x="1690" y="574.1" font-size="9.5" fill="#000" textLength="33" lengthAdjust="spacingAndGlyphs">20847.0</text>
<text x="1688" y="585" font-size="9.5" fill="#000" textLength="27" lengthAdjust="spacingAndGlyphs">643.23</text><text x="1688" y="634" font-size="9.5" fill="#000" textLength="18" lengthAdjust="spacingAndGlyphs">0.00</text><text x="1688" y="743" font-size="9.5" fill="#000" textLength="36" lengthAdjust="spacingAndGlyphs">-1417.44</text><text x="1688" y="760" font-size="9.5" fill="#000" textLength="14" lengthAdjust="spacingAndGlyphs">100</text><text x="1688" y="788" font-size="9.5" fill="#000" textLength="9.5" lengthAdjust="spacingAndGlyphs">80</text><text x="1688" y="839" font-size="9.5" fill="#000" textLength="9.5" lengthAdjust="spacingAndGlyphs">50</text><text x="1688" y="900" font-size="9.5" fill="#000" textLength="9.5" lengthAdjust="spacingAndGlyphs">15</text><text x="1688" y="919" font-size="9.5" fill="#000" textLength="5" lengthAdjust="spacingAndGlyphs">0</text>
<rect x="1686" y="34" width="41" height="11" fill="#ff0000" shape-rendering="crispEdges"/><text x="1690" y="42.7" font-size="9.5" fill="#fff" textLength="33" lengthAdjust="spacingAndGlyphs">26926.9</text>
<rect x="1686" y="49" width="41" height="11" fill="#ff0000" shape-rendering="crispEdges"/><text x="1690" y="57.7" font-size="9.5" fill="#fff" textLength="33" lengthAdjust="spacingAndGlyphs">26755.2</text>
<rect x="1686" y="67" width="41" height="11" fill="#000000" shape-rendering="crispEdges"/><text x="1690" y="75.7" font-size="9.5" fill="#fff" textLength="33" lengthAdjust="spacingAndGlyphs">26551.0</text>
<rect x="1686" y="78" width="41" height="11" fill="#32cd32" shape-rendering="crispEdges"/><text x="1690" y="86.7" font-size="9.5" fill="#fff" textLength="33" lengthAdjust="spacingAndGlyphs">26423.3</text>
<rect x="1686" y="95" width="41" height="11" fill="#0000ff" shape-rendering="crispEdges"/><text x="1690" y="103.7" font-size="9.5" fill="#fff" textLength="33" lengthAdjust="spacingAndGlyphs">26228.7</text>
<rect x="1686" y="111" width="41" height="11" fill="#0000ff" shape-rendering="crispEdges"/><text x="1690" y="119.7" font-size="9.5" fill="#fff" textLength="33" lengthAdjust="spacingAndGlyphs">26045.5</text>
<g shape-rendering="crispEdges"><rect x="1679" y="38" width="5" height="5" fill="#ff0000"/><rect x="1680" y="39" width="3" height="3" fill="#fff"/><rect x="1679" y="53" width="5" height="5" fill="#ff0000"/><rect x="1680" y="54" width="3" height="3" fill="#fff"/><rect x="1679" y="82" width="5" height="5" fill="#32cd32"/><rect x="1680" y="83" width="3" height="3" fill="#fff"/><rect x="1679" y="99" width="5" height="5" fill="#0000ff"/><rect x="1680" y="100" width="3" height="3" fill="#fff"/><rect x="1679" y="115" width="5" height="5" fill="#0000ff"/><rect x="1680" y="116" width="3" height="3" fill="#fff"/></g>
<text x="-7" y="935" font-size="9.5" fill="#000" textLength="52" lengthAdjust="spacingAndGlyphs">26 Feb 2020</text><text x="57" y="935" font-size="9.5" fill="#000" textLength="46.5" lengthAdjust="spacingAndGlyphs">6 Mar 2020</text><text x="121" y="935" font-size="9.5" fill="#000" textLength="52" lengthAdjust="spacingAndGlyphs">18 Mar 2020</text><text x="185" y="935" font-size="9.5" fill="#000" textLength="52" lengthAdjust="spacingAndGlyphs">30 Mar 2020</text><text x="249" y="935" font-size="9.5" fill="#000" textLength="46.5" lengthAdjust="spacingAndGlyphs">9 Apr 2020</text><text x="313" y="935" font-size="9.5" fill="#000" textLength="52" lengthAdjust="spacingAndGlyphs">23 Apr 2020</text><text x="377" y="935" font-size="9.5" fill="#000" textLength="46.5" lengthAdjust="spacingAndGlyphs">7 May 2020</text><text x="441" y="935" font-size="9.5" fill="#000" textLength="52" lengthAdjust="spacingAndGlyphs">19 May 2020</text><text x="505" y="935" font-size="9.5" fill="#000" textLength="52" lengthAdjust="spacingAndGlyphs">29 May 2020</text><text x="569" y="935" font-size="9.5" fill="#000" textLength="52" lengthAdjust="spacingAndGlyphs">10 Jun 2020</text><text x="633" y="935" font-size="9.5" fill="#000" textLength="52" lengthAdjust="spacingAndGlyphs">22 Jun 2020</text><text x="697" y="935" font-size="9.5" fill="#000" textLength="46.5" lengthAdjust="spacingAndGlyphs">6 Jul 2020</text><text x="761" y="935" font-size="9.5" fill="#000" textLength="52" lengthAdjust="spacingAndGlyphs">16 Jul 2020</text><text x="825" y="935" font-size="9.5" fill="#000" textLength="52" lengthAdjust="spacingAndGlyphs">28 Jul 2020</text><text x="889" y="935" font-size="9.5" fill="#000" textLength="46.5" lengthAdjust="spacingAndGlyphs">7 Aug 2020</text><text x="953" y="935" font-size="9.5" fill="#000" textLength="52" lengthAdjust="spacingAndGlyphs">19 Aug 2020</text><text x="1017" y="935" font-size="9.5" fill="#000" textLength="52" lengthAdjust="spacingAndGlyphs">31 Aug 2020</text><text x="1081" y="935" font-size="9.5" fill="#000" textLength="52" lengthAdjust="spacingAndGlyphs">10 Sep 2020</text><text x="1145" y="935" font-size="9.5" fill="#000" textLength="52" lengthAdjust="spacingAndGlyphs">22 Sep 2020</text><text x="1209" y="935" font-size="9.5" fill="#000" textLength="46.5" lengthAdjust="spacingAndGlyphs">6 Oct 2020</text><text x="1273" y="935" font-size="9.5" fill="#000" textLength="52" lengthAdjust="spacingAndGlyphs">16 Oct 2020</text><text x="1337" y="935" font-size="9.5" fill="#000" textLength="52" lengthAdjust="spacingAndGlyphs">29 Oct 2020</text><text x="1401" y="935" font-size="9.5" fill="#000" textLength="52" lengthAdjust="spacingAndGlyphs">10 Nov 2020</text>
<g shape-rendering="crispEdges" fill="#c0c0c0">
<rect x="2" y="630" width="1" height="16"/><rect x="10" y="630" width="1" height="18"/><rect x="18" y="630" width="1" height="22"/><rect x="26" y="630" width="1" height="26"/><rect x="34" y="630" width="1" height="26"/><rect x="42" y="630" width="1" height="28"/><rect x="50" y="630" width="1" height="26"/><rect x="58" y="630" width="1" height="28"/><rect x="66" y="630" width="1" height="38"/><rect x="74" y="630" width="1" height="40"/><rect x="82" y="630" width="1" height="44"/><rect x="90" y="630" width="1" height="54"/><rect x="98" y="630" width="1" height="62"/><rect x="106" y="630" width="1" height="75"/><rect x="114" y="630" width="1" height="82"/><rect x="122" y="630" width="1" height="94"/><rect x="130" y="630" width="1" height="103"/><rect x="138" y="630" width="1" height="100"/><rect x="146" y="630" width="1" height="108"/><rect x="154" y="630" width="1" height="104"/><rect x="162" y="630" width="1" height="95"/><rect x="170" y="630" width="1" height="88"/><rect x="178" y="630" width="1" height="80"/><rect x="186" y="630" width="1" height="78"/><rect x="194" y="630" width="1" height="68"/><rect x="202" y="630" width="1" height="67"/><rect x="210" y="630" width="1" height="62"/><rect x="218" y="630" width="1" height="57"/><rect x="226" y="630" width="1" height="50"/><rect x="234" y="630" width="1" height="40"/><rect x="242" y="630" width="1" height="35"/><rect x="250" y="630" width="1" height="28"/><rect x="258" y="630" width="1" height="22"/><rect x="266" y="630" width="1" height="18"/><rect x="274" y="630" width="1" height="16"/><rect x="282" y="630" width="1" height="12"/><rect x="290" y="630" width="1" height="8"/><rect x="298" y="630" width="1" height="8"/><rect x="306" y="630" width="1" height="8"/><rect x="314" y="630" width="1" height="8"/><rect x="322" y="630" width="1" height="8"/><rect x="330" y="630" width="1" height="6"/><rect x="338" y="630" width="1" height="1"/><rect x="346" y="629" width="1" height="1"/><rect x="354" y="630" width="1" height="2"/><rect x="362" y="630" width="1" height="2"/><rect x="370" y="630" width="1" height="2"/><rect x="378" y="630" width="1" height="2"/><rect x="426" y="630" width="1" height="1"/><rect x="434" y="630" width="1" height="2"/><rect x="450" y="629" width="1" height="1"/><rect x="458" y="629" width="1" height="1"/><rect x="466" y="630" width="1" height="7"/><rect x="474" y="630" width="1" height="13"/><rect x="482" y="630" width="1" height="14"/><rect x="490" y="630" width="1" height="18"/><rect x="498" y="630" width="1" height="20"/><rect x="506" y="630" width="1" height="24"/><rect x="514" y="630" width="1" height="20"/><rect x="522" y="630" width="1" height="16"/><rect x="530" y="630" width="1" height="10"/><rect x="538" y="630" width="1" height="4"/><rect x="546" y="628" width="1" height="2"/><rect x="554" y="623" width="1" height="7"/><rect x="562" y="618" width="1" height="12"/><rect x="570" y="613" width="1" height="17"/><rect x="578" y="613" width="1" height="17"/><rect x="586" y="615" width="1" height="15"/><rect x="594" y="620" width="1" height="10"/><rect x="602" y="619" width="1" height="11"/><rect x="610" y="618" width="1" height="12"/><rect x="618" y="618" width="1" height="12"/><rect x="626" y="617" width="1" height="13"/><rect x="634" y="616" width="1" height="14"/><rect x="642" y="615" width="1" height="15"/><rect x="650" y="615" width="1" height="15"/><rect x="658" y="616" width="1" height="14"/><rect x="666" y="621" width="1" height="9"/><rect x="674" y="622" width="1" height="8"/><rect x="682" y="617" width="1" height="13"/><rect x="690" y="613" width="1" height="17"/><rect x="698" y="603" width="1" height="27"/><rect x="706" y="598" width="1" height="32"/><rect x="714" y="594" width="1" height="36"/><rect x="722" y="590" width="1" height="40"/><rect x="730" y="591" width="1" height="39"/><rect x="738" y="591" width="1" height="39"/><rect x="746" y="594" width="1" height="36"/><rect x="754" y="596" width="1" height="34"/><rect x="762" y="603" width="1" height="27"/><rect x="770" y="606" width="1" height="24"/><rect x="778" y="610" width="1" height="20"/><rect x="786" y="610" width="1" height="20"/><rect x="794" y="613" width="1" height="17"/><rect x="802" y="615" width="1" height="15"/><rect x="810" y="620" width="1" height="10"/><rect x="818" y="624" width="1" height="6"/><rect x="826" y="627" width="1" height="3"/><rect x="834" y="629" width="1" height="1"/><rect x="850" y="630" width="1" height="3"/><rect x="858" y="630" width="1" height="6"/><rect x="866" y="630" width="1" height="5"/><rect x="874" y="630" width="1" height="3"/><rect x="882" y="630" width="1" height="4"/><rect x="890" y="630" width="1" height="6"/><rect x="898" y="630" width="1" height="8"/><rect x="906" y="630" width="1" height="6"/><rect x="914" y="630" width="1" height="3"/><rect x="938" y="628" width="1" height="2"/><rect x="946" y="626" width="1" height="4"/><rect x="954" y="626" width="1" height="4"/><rect x="962" y="628" width="1" height="2"/><rect x="970" y="628" width="1" height="2"/><rect x="978" y="625" width="1" height="5"/><rect x="986" y="623" width="1" height="7"/><rect x="994" y="622" width="1" height="8"/><rect x="1002" y="623" width="1" height="7"/><rect x="1010" y="622" width="1" height="8"/><rect x="1018" y="624" width="1" height="6"/><rect x="1026" y="625" width="1" height="5"/><rect x="1034" y="626" width="1" height="4"/><rect x="1042" y="628" width="1" height="2"/><rect x="1058" y="630" width="1" height="3"/><rect x="1066" y="630" width="1" height="6"/><rect x="1074" y="630" width="1" height="8"/><rect x="1082" y="630" width="1" height="12"/><rect x="1090" y="630" width="1" height="13"/><rect x="1098" y="630" width="1" height="13"/><rect x="1106" y="630" width="1" height="11"/><rect x="1114" y="630" width="1" height="10"/><rect x="1122" y="630" width="1" height="12"/><rect x="1130" y="630" width="1" height="11"/><rect x="1138" y="630" width="1" height="16"/><rect x="1146" y="630" width="1" height="20"/><rect x="1154" y="630" width="1" height="23"/><rect x="1162" y="630" width="1" height="27"/><rect x="1170" y="630" width="1" height="32"/><rect x="1178" y="630" width="1" height="33"/><rect x="1186" y="630" width="1" height="35"/><rect x="1194" y="630" width="1" height="34"/><rect x="1202" y="630" width="1" height="32"/><rect x="1210" y="630" width="1" height="27"/><rect x="1218" y="630" width="1" height="22"/><rect x="1226" y="630" width="1" height="19"/><rect x="1234" y="630" width="1" height="16"/><rect x="1242" y="630" width="1" height="10"/><rect x="1250" y="630" width="1" height="6"/><rect x="1258" y="630" width="1" height="2"/><rect x="1266" y="630" width="1" height="2"/><rect x="1290" y="628" width="1" height="2"/><rect x="1298" y="626" width="1" height="4"/><rect x="1306" y="623" width="1" height="7"/><rect x="1314" y="621" width="1" height="9"/><rect x="1322" y="620" width="1" height="10"/><rect x="1330" y="621" width="1" height="9"/><rect x="1338" y="622" width="1" height="8"/><rect x="1346" y="625" width="1" height="5"/><rect x="1354" y="626" width="1" height="4"/><rect x="1362" y="623" width="1" height="7"/><rect x="1370" y="621" width="1" height="9"/><rect x="1378" y="614" width="1" height="16"/><rect x="1386" y="609" width="1" height="21"/><rect x="1394" y="603" width="1" height="27"/><rect x="1402" y="597" width="1" height="33"/><rect x="1410" y="593" width="1" height="37"/><rect x="1418" y="591" width="1" height="39"/><rect x="1426" y="590" width="1" height="40"/><rect x="1434" y="588" width="1" height="42"/><rect x="1442" y="587" width="1" height="43"/><rect x="1450" y="586" width="1" height="44"/>
</g>
<path fill="#ff0000" shape-rendering="crispEdges" d="M0 638h1v1h-1zM1 638h1v1h-1zM2 638h1v1h-1zM6 639h1v1h-1zM7 639h1v1h-1zM8 640h1v1h-1zM12 640h1v1h-1zM13 641h1v1h-1zM14 641h1v1h-1zM18 642h1v1h-1zM19 642h1v1h-1zM20 642h1v1h-1zM24 643h1v1h-1zM25 644h1v1h-1zM26 644h1v1h-1zM30 646h1v1h-1zM31 646h1v1h-1zM32 646h1v1h-1zM36 647h1v1h-1zM37 648h1v1h-1zM38 648h1v1h-1zM42 649h1v1h-1zM43 650h1v1h-1zM44 650h1v1h-1zM48 651h1v1h-1zM49 652h1v1h-1zM50 652h1v1h-1zM54 653h1v1h-1zM55 653h1v1h-1zM56 654h1v1h-1zM60 655h1v1h-1zM61 655h1v1h-1zM62 655h1v1h-1zM66 656h1v1h-1zM67 657h1v1h-1zM68 657h1v1h-1zM72 659h1v1h-1zM73 659h1v1h-1zM74 660h1v1h-1zM78 661h1v1h-1zM79 661h1v1h-1zM80 662h1v1h-1zM84 663h1v1h-1zM85 663h1v1h-1zM86 663h1v1h-1zM90 665h1v1h-1zM91 665h1v1h-1zM92 666h1v1h-1zM96 668h1v1h-1zM97 668h1v1h-1zM98 669h1v1h-1zM102 672h1v1h-1zM103 672h1v1h-1zM104 673h1v1h-1zM108 676h1v1h-1zM109 677h1v1h-1zM110 678h1v1h-1zM114 681h1v1h-1zM115 682h1v1h-1zM116 682h1v1h-1zM120 686h1v1h-1zM121 687h1v1h-1zM122 688h1v1h-1zM126 691h1v1h-1zM127 692h1v1h-1zM128 693h1v1h-1zM132 697h1v1h-1zM133 698h1v1h-1zM134 699h1v1h-1zM138 703h1v1h-1zM139 704h1v1h-1zM140 705h1v1h-1zM144 708h1v1h-1zM145 709h1v1h-1zM146 710h1v1h-1zM150 713h1v1h-1zM151 714h1v1h-1zM152 715h1v1h-1zM156 718h1v1h-1zM157 718h1v1h-1zM158 719h1v1h-1zM162 721h1v1h-1zM163 721h1v1h-1zM164 722h1v1h-1zM168 724h1v1h-1zM169 724h1v1h-1zM170 724h1v1h-1zM174 725h1v1h-1zM175 725h1v1h-1zM176 725h1v1h-1zM180 725h1v1h-1zM181 725h1v1h-1zM182 725h1v1h-1zM186 725h1v1h-1zM187 725h1v1h-1zM188 725h1v1h-1zM192 723h1v1h-1zM193 723h1v1h-1zM194 723h1v1h-1zM198 721h1v1h-1zM199 721h1v1h-1zM200 720h1v1h-1zM204 718h1v1h-1zM205 718h1v1h-1zM206 717h1v1h-1zM210 714h1v1h-1zM211 714h1v1h-1zM212 713h1v1h-1zM216 710h1v1h-1zM217 709h1v1h-1zM218 708h1v1h-1zM222 705h1v1h-1zM223 705h1v1h-1zM224 704h1v1h-1zM228 701h1v1h-1zM229 700h1v1h-1zM230 700h1v1h-1zM234 697h1v1h-1zM235 696h1v1h-1zM236 695h1v1h-1zM240 693h1v1h-1zM241 692h1v1h-1zM242 691h1v1h-1zM246 688h1v1h-1zM247 688h1v1h-1zM248 687h1v1h-1zM252 683h1v1h-1zM253 683h1v1h-1zM254 682h1v1h-1zM258 678h1v1h-1zM259 677h1v1h-1zM260 677h1v1h-1zM264 674h1v1h-1zM265 674h1v1h-1zM266 673h1v1h-1zM270 671h1v1h-1zM271 670h1v1h-1zM272 669h1v1h-1zM276 666h1v1h-1zM277 666h1v1h-1zM278 665h1v1h-1zM282 662h1v1h-1zM283 661h1v1h-1zM284 660h1v1h-1zM288 657h1v1h-1zM289 657h1v1h-1zM290 656h1v1h-1zM294 654h1v1h-1zM295 654h1v1h-1zM296 653h1v1h-1zM300 651h1v1h-1zM301 651h1v1h-1zM302 650h1v1h-1zM306 649h1v1h-1zM307 648h1v1h-1zM308 648h1v1h-1zM312 646h1v1h-1zM313 646h1v1h-1zM314 646h1v1h-1zM318 644h1v1h-1zM319 644h1v1h-1zM320 644h1v1h-1zM324 643h1v1h-1zM325 643h1v1h-1zM326 642h1v1h-1zM330 641h1v1h-1zM331 641h1v1h-1zM332 641h1v1h-1zM336 640h1v1h-1zM337 639h1v1h-1zM338 639h1v1h-1zM342 638h1v1h-1zM343 638h1v1h-1zM344 638h1v1h-1zM348 637h1v1h-1zM349 637h1v1h-1zM350 637h1v1h-1zM354 637h1v1h-1zM355 637h1v1h-1zM356 637h1v1h-1zM360 636h1v1h-1zM361 636h1v1h-1zM362 636h1v1h-1zM366 636h1v1h-1zM367 636h1v1h-1zM368 636h1v1h-1zM372 635h1v1h-1zM373 635h1v1h-1zM374 635h1v1h-1zM378 635h1v1h-1zM379 635h1v1h-1zM380 635h1v1h-1zM384 634h1v1h-1zM385 634h1v1h-1zM386 634h1v1h-1zM390 634h1v1h-1zM391 634h1v1h-1zM392 634h1v1h-1zM396 633h1v1h-1zM397 633h1v1h-1zM398 633h1v1h-1zM402 632h1v1h-1zM403 632h1v1h-1zM404 632h1v1h-1zM408 632h1v1h-1zM409 632h1v1h-1zM410 632h1v1h-1zM414 632h1v1h-1zM415 632h1v1h-1zM416 632h1v1h-1zM420 632h1v1h-1zM421 632h1v1h-1zM422 632h1v1h-1zM426 632h1v1h-1zM427 633h1v1h-1zM428 633h1v1h-1zM432 633h1v1h-1zM433 633h1v1h-1zM434 633h1v1h-1zM438 633h1v1h-1zM439 633h1v1h-1zM440 632h1v1h-1zM444 632h1v1h-1zM445 632h1v1h-1zM446 632h1v1h-1zM450 631h1v1h-1zM451 631h1v1h-1zM452 631h1v1h-1zM456 630h1v1h-1zM457 630h1v1h-1zM458 630h1v1h-1zM462 630h1v1h-1zM463 630h1v1h-1zM464 630h1v1h-1zM468 631h1v1h-1zM469 632h1v1h-1zM470 632h1v1h-1zM474 634h1v1h-1zM475 634h1v1h-1zM476 634h1v1h-1zM480 635h1v1h-1zM481 635h1v1h-1zM482 635h1v1h-1zM486 636h1v1h-1zM487 636h1v1h-1zM488 636h1v1h-1zM492 637h1v1h-1zM493 637h1v1h-1zM494 637h1v1h-1zM498 638h1v1h-1zM499 638h1v1h-1zM500 638h1v1h-1zM504 639h1v1h-1zM505 640h1v1h-1zM506 640h1v1h-1zM510 642h1v1h-1zM511 642h1v1h-1zM512 643h1v1h-1zM516 644h1v1h-1zM517 644h1v1h-1zM518 644h1v1h-1zM522 646h1v1h-1zM523 646h1v1h-1zM524 646h1v1h-1zM528 646h1v1h-1zM529 646h1v1h-1zM530 646h1v1h-1zM534 646h1v1h-1zM535 646h1v1h-1zM536 646h1v1h-1zM540 645h1v1h-1zM541 645h1v1h-1zM542 645h1v1h-1zM546 644h1v1h-1zM547 644h1v1h-1zM548 644h1v1h-1zM552 642h1v1h-1zM553 642h1v1h-1zM554 642h1v1h-1zM558 640h1v1h-1zM559 640h1v1h-1zM560 639h1v1h-1zM564 638h1v1h-1zM565 637h1v1h-1zM566 637h1v1h-1zM570 635h1v1h-1zM571 635h1v1h-1zM572 634h1v1h-1zM576 632h1v1h-1zM577 632h1v1h-1zM578 631h1v1h-1zM582 629h1v1h-1zM583 628h1v1h-1zM584 628h1v1h-1zM588 626h1v1h-1zM589 626h1v1h-1zM590 625h1v1h-1zM594 624h1v1h-1zM595 623h1v1h-1zM596 623h1v1h-1zM600 621h1v1h-1zM601 621h1v1h-1zM602 620h1v1h-1zM606 619h1v1h-1zM607 619h1v1h-1zM608 619h1v1h-1zM612 618h1v1h-1zM613 618h1v1h-1zM614 618h1v1h-1zM618 618h1v1h-1zM619 617h1v1h-1zM620 617h1v1h-1zM624 617h1v1h-1zM625 617h1v1h-1zM626 617h1v1h-1zM630 616h1v1h-1zM631 616h1v1h-1zM632 616h1v1h-1zM636 616h1v1h-1zM637 616h1v1h-1zM638 616h1v1h-1zM642 616h1v1h-1zM643 616h1v1h-1zM644 616h1v1h-1zM648 616h1v1h-1zM649 617h1v1h-1zM650 617h1v1h-1zM654 617h1v1h-1zM655 617h1v1h-1zM656 617h1v1h-1zM660 617h1v1h-1zM661 617h1v1h-1zM662 617h1v1h-1zM666 617h1v1h-1zM667 617h1v1h-1zM668 617h1v1h-1zM672 618h1v1h-1zM673 618h1v1h-1zM674 618h1v1h-1zM678 618h1v1h-1zM679 617h1v1h-1zM680 617h1v1h-1zM684 617h1v1h-1zM685 617h1v1h-1zM686 617h1v1h-1zM690 616h1v1h-1zM691 616h1v1h-1zM692 616h1v1h-1zM696 615h1v1h-1zM697 615h1v1h-1zM698 615h1v1h-1zM702 614h1v1h-1zM703 614h1v1h-1zM704 614h1v1h-1zM708 613h1v1h-1zM709 612h1v1h-1zM710 612h1v1h-1zM714 611h1v1h-1zM715 610h1v1h-1zM716 610h1v1h-1zM720 608h1v1h-1zM721 608h1v1h-1zM722 607h1v1h-1zM726 606h1v1h-1zM727 605h1v1h-1zM728 605h1v1h-1zM732 603h1v1h-1zM733 603h1v1h-1zM734 603h1v1h-1zM738 602h1v1h-1zM739 601h1v1h-1zM740 601h1v1h-1zM744 600h1v1h-1zM745 599h1v1h-1zM746 599h1v1h-1zM750 598h1v1h-1zM751 598h1v1h-1zM752 597h1v1h-1zM756 597h1v1h-1zM757 597h1v1h-1zM758 597h1v1h-1zM762 596h1v1h-1zM763 596h1v1h-1zM764 596h1v1h-1zM768 596h1v1h-1zM769 596h1v1h-1zM770 596h1v1h-1zM774 596h1v1h-1zM775 596h1v1h-1zM776 597h1v1h-1zM780 597h1v1h-1zM781 598h1v1h-1zM782 598h1v1h-1zM786 599h1v1h-1zM787 599h1v1h-1zM788 599h1v1h-1zM792 601h1v1h-1zM793 601h1v1h-1zM794 601h1v1h-1zM798 602h1v1h-1zM799 603h1v1h-1zM800 603h1v1h-1zM804 604h1v1h-1zM805 605h1v1h-1zM806 605h1v1h-1zM810 607h1v1h-1zM811 607h1v1h-1zM812 608h1v1h-1zM816 609h1v1h-1zM817 610h1v1h-1zM818 610h1v1h-1zM822 612h1v1h-1zM823 612h1v1h-1zM824 612h1v1h-1zM828 614h1v1h-1zM829 614h1v1h-1zM830 615h1v1h-1zM834 616h1v1h-1zM835 617h1v1h-1zM836 617h1v1h-1zM840 619h1v1h-1zM841 619h1v1h-1zM842 620h1v1h-1zM846 621h1v1h-1zM847 622h1v1h-1zM848 622h1v1h-1zM852 624h1v1h-1zM853 624h1v1h-1zM854 624h1v1h-1zM858 626h1v1h-1zM859 626h1v1h-1zM860 627h1v1h-1zM864 628h1v1h-1zM865 629h1v1h-1zM866 629h1v1h-1zM870 629h1v1h-1zM871 628h1v1h-1zM872 628h1v1h-1zM876 629h1v1h-1zM877 629h1v1h-1zM878 630h1v1h-1zM882 631h1v1h-1zM883 631h1v1h-1zM884 632h1v1h-1zM888 632h1v1h-1zM889 633h1v1h-1zM890 633h1v1h-1zM894 634h1v1h-1zM895 634h1v1h-1zM896 634h1v1h-1zM900 635h1v1h-1zM901 635h1v1h-1zM902 635h1v1h-1zM906 635h1v1h-1zM907 636h1v1h-1zM908 636h1v1h-1zM912 636h1v1h-1zM913 636h1v1h-1zM914 636h1v1h-1zM918 636h1v1h-1zM919 636h1v1h-1zM920 636h1v1h-1zM924 635h1v1h-1zM925 635h1v1h-1zM926 635h1v1h-1zM930 634h1v1h-1zM931 634h1v1h-1zM932 634h1v1h-1zM936 634h1v1h-1zM937 633h1v1h-1zM938 633h1v1h-1zM942 633h1v1h-1zM943 633h1v1h-1zM944 633h1v1h-1zM948 632h1v1h-1zM949 632h1v1h-1zM950 632h1v1h-1zM954 631h1v1h-1zM955 631h1v1h-1zM956 631h1v1h-1zM960 630h1v1h-1zM961 630h1v1h-1zM962 630h1v1h-1zM966 630h1v1h-1zM967 629h1v1h-1zM968 629h1v1h-1zM972 629h1v1h-1zM973 629h1v1h-1zM974 629h1v1h-1zM978 628h1v1h-1zM979 628h1v1h-1zM980 628h1v1h-1zM984 627h1v1h-1zM985 627h1v1h-1zM986 627h1v1h-1zM990 625h1v1h-1zM991 625h1v1h-1zM992 625h1v1h-1zM996 625h1v1h-1zM997 624h1v1h-1zM998 624h1v1h-1zM1002 624h1v1h-1zM1003 624h1v1h-1zM1004 624h1v1h-1zM1008 624h1v1h-1zM1009 624h1v1h-1zM1010 624h1v1h-1zM1014 624h1v1h-1zM1015 624h1v1h-1zM1016 624h1v1h-1zM1020 623h1v1h-1zM1021 623h1v1h-1zM1022 623h1v1h-1zM1026 623h1v1h-1zM1027 623h1v1h-1zM1028 623h1v1h-1zM1032 623h1v1h-1zM1033 623h1v1h-1zM1034 623h1v1h-1zM1038 623h1v1h-1zM1039 623h1v1h-1zM1040 623h1v1h-1zM1044 623h1v1h-1zM1045 623h1v1h-1zM1046 623h1v1h-1zM1050 624h1v1h-1zM1051 624h1v1h-1zM1052 624h1v1h-1zM1056 625h1v1h-1zM1057 625h1v1h-1zM1058 625h1v1h-1zM1062 626h1v1h-1zM1063 626h1v1h-1zM1064 627h1v1h-1zM1068 627h1v1h-1zM1069 628h1v1h-1zM1070 628h1v1h-1zM1074 629h1v1h-1zM1075 629h1v1h-1zM1076 629h1v1h-1zM1080 631h1v1h-1zM1081 631h1v1h-1zM1082 631h1v1h-1zM1086 632h1v1h-1zM1087 633h1v1h-1zM1088 633h1v1h-1zM1092 634h1v1h-1zM1093 634h1v1h-1zM1094 635h1v1h-1zM1098 635h1v1h-1zM1099 636h1v1h-1zM1100 636h1v1h-1zM1104 637h1v1h-1zM1105 637h1v1h-1zM1106 637h1v1h-1zM1110 639h1v1h-1zM1111 639h1v1h-1zM1112 639h1v1h-1zM1116 639h1v1h-1zM1117 640h1v1h-1zM1118 640h1v1h-1zM1122 640h1v1h-1zM1123 640h1v1h-1zM1124 641h1v1h-1zM1128 641h1v1h-1zM1129 642h1v1h-1zM1130 642h1v1h-1zM1134 642h1v1h-1zM1135 642h1v1h-1zM1136 642h1v1h-1zM1140 643h1v1h-1zM1141 643h1v1h-1zM1142 643h1v1h-1zM1146 643h1v1h-1zM1147 644h1v1h-1zM1148 644h1v1h-1zM1152 644h1v1h-1zM1153 644h1v1h-1zM1154 645h1v1h-1zM1158 645h1v1h-1zM1159 646h1v1h-1zM1160 646h1v1h-1zM1164 647h1v1h-1zM1165 647h1v1h-1zM1166 647h1v1h-1zM1170 649h1v1h-1zM1171 649h1v1h-1zM1172 649h1v1h-1zM1176 650h1v1h-1zM1177 651h1v1h-1zM1178 651h1v1h-1zM1182 652h1v1h-1zM1183 653h1v1h-1zM1184 653h1v1h-1zM1188 655h1v1h-1zM1189 655h1v1h-1zM1190 656h1v1h-1zM1194 657h1v1h-1zM1195 657h1v1h-1zM1196 657h1v1h-1zM1200 658h1v1h-1zM1201 658h1v1h-1zM1202 658h1v1h-1zM1206 659h1v1h-1zM1207 659h1v1h-1zM1208 659h1v1h-1zM1212 660h1v1h-1zM1213 660h1v1h-1zM1214 660h1v1h-1zM1218 660h1v1h-1zM1219 660h1v1h-1zM1220 660h1v1h-1zM1224 660h1v1h-1zM1225 660h1v1h-1zM1226 660h1v1h-1zM1230 659h1v1h-1zM1231 659h1v1h-1zM1232 659h1v1h-1zM1236 658h1v1h-1zM1237 658h1v1h-1zM1238 658h1v1h-1zM1242 657h1v1h-1zM1243 656h1v1h-1zM1244 656h1v1h-1zM1248 654h1v1h-1zM1249 654h1v1h-1zM1250 653h1v1h-1zM1254 652h1v1h-1zM1255 651h1v1h-1zM1256 651h1v1h-1zM1260 649h1v1h-1zM1261 648h1v1h-1zM1262 648h1v1h-1zM1266 646h1v1h-1zM1267 646h1v1h-1zM1268 645h1v1h-1zM1272 644h1v1h-1zM1273 643h1v1h-1zM1274 643h1v1h-1zM1278 641h1v1h-1zM1279 641h1v1h-1zM1280 640h1v1h-1zM1284 639h1v1h-1zM1285 638h1v1h-1zM1286 638h1v1h-1zM1290 636h1v1h-1zM1291 636h1v1h-1zM1292 636h1v1h-1zM1296 634h1v1h-1zM1297 634h1v1h-1zM1298 634h1v1h-1zM1302 632h1v1h-1zM1303 632h1v1h-1zM1304 632h1v1h-1zM1308 631h1v1h-1zM1309 630h1v1h-1zM1310 630h1v1h-1zM1314 629h1v1h-1zM1315 629h1v1h-1zM1316 628h1v1h-1zM1320 627h1v1h-1zM1321 627h1v1h-1zM1322 627h1v1h-1zM1326 626h1v1h-1zM1327 626h1v1h-1zM1328 625h1v1h-1zM1332 625h1v1h-1zM1333 625h1v1h-1zM1334 625h1v1h-1zM1338 624h1v1h-1zM1339 624h1v1h-1zM1340 624h1v1h-1zM1344 624h1v1h-1zM1345 624h1v1h-1zM1346 623h1v1h-1zM1350 623h1v1h-1zM1351 623h1v1h-1zM1352 623h1v1h-1zM1356 623h1v1h-1zM1357 623h1v1h-1zM1358 623h1v1h-1zM1362 623h1v1h-1zM1363 623h1v1h-1zM1364 623h1v1h-1zM1368 622h1v1h-1zM1369 622h1v1h-1zM1370 622h1v1h-1zM1374 621h1v1h-1zM1375 621h1v1h-1zM1376 621h1v1h-1zM1380 620h1v1h-1zM1381 620h1v1h-1zM1382 620h1v1h-1zM1386 619h1v1h-1zM1387 619h1v1h-1zM1388 619h1v1h-1zM1392 618h1v1h-1zM1393 618h1v1h-1zM1394 618h1v1h-1zM1398 617h1v1h-1zM1399 616h1v1h-1zM1400 616h1v1h-1zM1404 614h1v1h-1zM1405 614h1v1h-1zM1406 614h1v1h-1zM1410 612h1v1h-1zM1411 612h1v1h-1zM1412 611h1v1h-1zM1416 609h1v1h-1zM1417 609h1v1h-1zM1418 608h1v1h-1zM1422 606h1v1h-1zM1423 606h1v1h-1zM1424 605h1v1h-1zM1428 603h1v1h-1zM1429 603h1v1h-1zM1430 602h1v1h-1zM1434 600h1v1h-1zM1435 600h1v1h-1zM1436 599h1v1h-1zM1440 597h1v1h-1zM1441 597h1v1h-1zM1442 596h1v1h-1zM1446 595h1v1h-1zM1447 595h1v1h-1zM1448 594h1v1h-1z"/>
<text x="-1" y="589" font-size="9.5" fill="#000" textLength="127" lengthAdjust="spacingAndGlyphs">MACD(12,26,9) 549.56 452.52</text>
<g shape-rendering="crispEdges" stroke="#c0c0c0" stroke-width="1" stroke-dasharray="3,3"><line x1="1" y1="784.5" x2="1684" y2="784.5"/><line x1="1" y1="835.5" x2="1684" y2="835.5"/><line x1="1" y1="896.5" x2="1684" y2="896.5"/></g>
<path fill="#1e90ff" shape-rendering="crispEdges" d="M1242 820h1v2h-1zM599 834h1v2h-1zM150 864h1v2h-1zM1137 860h1v2h-1zM1358 828h1v2h-1zM461 841h1v3h-1zM145 871h1v2h-1zM507 850h1v2h-1zM465 852h1v3h-1zM133 874h1v3h-1zM73 859h1v2h-1zM69 866h1v2h-1zM757 830h1v2h-1zM1357 830h1v3h-1zM1201 848h1v2h-1zM83 863h1v2h-1zM1197 854h1v2h-1zM50 843h1v2h-1zM354 845h1v2h-1zM862 841h1v2h-1zM571 815h1v2h-1zM68 868h1v2h-1zM460 839h1v2h-1zM1235 835h1v2h-1zM1121 849h1v2h-1zM466 855h1v2h-1zM1372 817h1v2h-1zM681 821h1v2h-1zM49 845h1v2h-1zM1132 850h1v2h-1zM1234 837h1v2h-1zM136 866h1v3h-1zM89 871h1v2h-1zM154 856h1v2h-1zM1265 838h1v2h-1zM1371 819h1v2h-1zM680 823h1v2h-1zM595 840h1v2h-1zM1119 846h1v2h-1zM1360 823h1v2h-1zM512 842h1v2h-1zM43 857h1v2h-1zM348 833h1v2h-1zM153 858h1v2h-1zM865 836h1v2h-1zM679 825h1v2h-1zM1130 846h1v2h-1zM149 866h1v2h-1zM1263 834h1v2h-1zM1171 872h1v2h-1zM864 838h1v2h-1zM61 863h1v2h-1zM860 844h1v2h-1zM1088 851h1v2h-1zM346 829h1v2h-1zM102 878h1v2h-1zM1174 868h1v2h-1zM347 831h1v2h-1zM780 833h1v2h-1zM132 877h1v3h-1zM46 851h1v2h-1zM143 868h1v2h-1zM638 824h1v2h-1zM63 866h1v2h-1zM60 861h1v2h-1zM45 853h1v2h-1zM508 848h1v2h-1zM86 867h1v2h-1zM52 846h1v2h-1zM903 838h1v2h-1zM676 831h1v2h-1zM1359 825h1v3h-1zM573 819h1v2h-1zM972 830h1v2h-1zM462 844h1v3h-1zM1241 822h1v2h-1zM694 810h1v2h-1zM1378 805h1v2h-1zM1115 840h1v2h-1zM1259 826h1v2h-1zM1374 813h1v2h-1zM644 822h1v2h-1zM54 850h1v2h-1zM51 844h1v2h-1zM16 859h1v2h-1zM572 817h1v2h-1zM1236 833h1v2h-1zM859 846h1v2h-1zM784 828h1v2h-1zM1373 815h1v2h-1zM955 832h1v2h-1zM350 837h1v2h-1zM1117 843h1v2h-1zM44 855h1v2h-1zM139 862h1v2h-1zM135 869h1v3h-1zM349 835h1v2h-1zM1340 836h1v2h-1zM976 825h1v2h-1zM1131 848h1v2h-1zM675 833h1v2h-1zM1375 811h1v2h-1zM884 840h1v2h-1zM1199 851h1v2h-1zM134 872h1v2h-1zM648 827h1v2h-1zM1195 857h1v2h-1zM138 861h1v2h-1zM1237 831h1v2h-1zM230 835h1v2h-1zM1370 821h1v2h-1zM12 854h1v2h-1zM575 823h1v2h-1zM137 863h1v3h-1zM156 853h1v2h-1zM601 831h1v2h-1zM152 860h1v2h-1zM597 837h1v2h-1zM64 868h1v2h-1zM723 810h1v2h-1zM1258 824h1v2h-1zM53 848h1v2h-1zM56 854h1v2h-1zM478 848h1v2h-1zM574 821h1v2h-1zM692 813h1v2h-1zM1356 833h1v2h-1zM790 830h1v2h-1zM888 845h1v2h-1zM964 840h1v2h-1zM352 841h1v2h-1zM1134 854h1v2h-1zM759 833h1v2h-1zM725 813h1v2h-1zM1260 828h1v2h-1zM1355 835h1v2h-1zM351 839h1v2h-1zM1362 819h1v2h-1zM1136 858h1v2h-1zM1133 852h1v2h-1zM510 845h1v2h-1zM761 836h1v2h-1zM727 816h1v2h-1zM464 850h1v2h-1zM72 861h1v2h-1zM905 835h1v2h-1zM697 805h1v2h-1zM1240 824h1v2h-1zM1361 821h1v2h-1zM513 840h1v2h-1zM901 841h1v2h-1zM1377 807h1v2h-1zM957 835h1v2h-1zM961 841h1v2h-1zM71 863h1v2h-1zM67 870h1v2h-1zM459 836h1v3h-1zM577 827h1v2h-1zM968 835h1v2h-1zM463 847h1v3h-1zM48 847h1v2h-1zM1084 856h1v2h-1zM1354 837h1v2h-1zM998 829h1v2h-1zM959 838h1v2h-1zM47 849h1v2h-1zM458 834h1v2h-1zM576 825h1v2h-1zM678 827h1v2h-1zM148 868h1v2h-1zM65 870h1v2h-1zM141 865h1v2h-1zM42 859h1v2h-1zM1262 832h1v2h-1zM696 807h1v2h-1zM1239 826h1v2h-1zM677 829h1v2h-1zM151 862h1v2h-1zM57 856h1v2h-1zM809 841h1v2h-1zM147 870h1v2h-1zM1177 864h1v2h-1zM353 843h1v2h-1zM131 880h1v3h-1zM1238 828h1v3h-1zM1135 856h1v2h-1zM899 844h1v2h-1zM691 815h1v2h-1zM146 872h1v2h-1zM1261 830h1v2h-1zM729 819h1v2h-1zM130 883h1v2h-1zM55 852h1v2h-1zM1344 841h1v2h-1zM59 859h1v2h-1zM755 827h1v2h-1zM588 834h1v2h-1zM803 833h1v2h-1zM160 848h1v2h-1zM806 837h1v2h-1zM1376 809h1v2h-1zM592 839h1v2h-1zM1264 836h1v2h-1zM25 859h6v1h-6zM37 859h4v1h-4zM76 859h2v1h-2zM1082 859h1v1h-1zM1194 859h1v1h-1zM544 821h2v1h-2zM641 821h1v1h-1zM643 821h1v1h-1zM730 821h5v1h-5zM739 821h2v1h-2zM1252 821h2v1h-2zM1303 821h1v1h-1zM1317 821h1v1h-1zM1367 821h2v1h-2zM158 851h1v1h-1zM476 851h1v1h-1zM501 851h4v1h-4zM1057 851h6v1h-6zM1122 851h1v1h-1zM192 844h1v1h-1zM196 844h1v1h-1zM221 844h1v1h-1zM357 844h1v1h-1zM482 844h1v1h-1zM511 844h1v1h-1zM815 844h5v1h-5zM842 844h3v1h-3zM887 844h1v1h-1zM1046 844h1v1h-1zM1100 844h1v1h-1zM1206 844h1v1h-1zM1346 844h1v1h-1zM85 866h1v1h-1zM1146 866h3v1h-3zM1156 866h1v1h-1zM1176 866h1v1h-1zM1184 866h2v1h-2zM1187 866h1v1h-1zM338 827h3v1h-3zM528 827h2v1h-2zM624 827h2v1h-2zM628 827h3v1h-3zM636 827h1v1h-1zM785 827h1v1h-1zM787 827h1v1h-1zM936 827h2v1h-2zM949 827h1v1h-1zM975 827h1v1h-1zM996 827h1v1h-1zM1292 827h2v1h-2zM1324 827h2v1h-2zM1399 800h1v1h-1zM1406 800h2v1h-2zM1439 800h6v1h-6zM337 828h1v1h-1zM341 828h4v1h-4zM394 828h1v1h-1zM449 828h2v1h-2zM527 828h1v1h-1zM622 828h2v1h-2zM631 828h2v1h-2zM635 828h1v1h-1zM788 828h1v1h-1zM914 828h3v1h-3zM935 828h1v1h-1zM950 828h1v1h-1zM974 828h1v1h-1zM997 828h1v1h-1zM1010 828h1v1h-1zM1282 828h10v1h-10zM1326 828h2v1h-2zM231 834h1v1h-1zM237 834h1v1h-1zM250 834h2v1h-2zM263 834h1v1h-1zM279 834h2v1h-2zM291 834h1v1h-1zM329 834h1v1h-1zM386 834h1v1h-1zM402 834h3v1h-3zM438 834h1v1h-1zM519 834h1v1h-1zM658 834h1v1h-1zM770 834h3v1h-3zM793 834h1v1h-1zM796 834h3v1h-3zM868 834h3v1h-3zM877 834h1v1h-1zM906 834h1v1h-1zM956 834h1v1h-1zM969 834h1v1h-1zM1002 834h1v1h-1zM1016 834h1v1h-1zM1218 834h3v1h-3zM1272 834h1v1h-1zM1338 834h1v1h-1zM239 836h1v1h-1zM247 836h1v1h-1zM266 836h3v1h-3zM277 836h1v1h-1zM293 836h2v1h-2zM327 836h1v1h-1zM370 836h3v1h-3zM382 836h2v1h-2zM409 836h2v1h-2zM436 836h1v1h-1zM517 836h1v1h-1zM589 836h1v1h-1zM598 836h1v1h-1zM661 836h2v1h-2zM672 836h2v1h-2zM766 836h2v1h-2zM777 836h2v1h-2zM805 836h1v1h-1zM879 836h2v1h-2zM1018 836h18v1h-18zM1216 836h1v1h-1zM1225 836h4v1h-4zM1270 836h1v1h-1zM168 849h2v1h-2zM172 849h2v1h-2zM184 849h2v1h-2zM187 849h1v1h-1zM202 849h2v1h-2zM490 849h5v1h-5zM1052 849h3v1h-3zM1090 849h2v1h-2zM1125 849h2v1h-2zM228 838h1v1h-1zM241 838h1v1h-1zM243 838h2v1h-2zM273 838h2v1h-2zM296 838h1v1h-1zM311 838h5v1h-5zM325 838h1v1h-1zM366 838h2v1h-2zM377 838h3v1h-3zM413 838h1v1h-1zM434 838h1v1h-1zM515 838h1v1h-1zM591 838h1v1h-1zM664 838h2v1h-2zM668 838h2v1h-2zM762 838h2v1h-2zM882 838h1v1h-1zM966 838h1v1h-1zM1038 838h2v1h-2zM1106 838h5v1h-5zM1213 838h2v1h-2zM1233 838h1v1h-1zM1268 838h1v1h-1zM1341 838h1v1h-1zM530 826h5v1h-5zM626 826h2v1h-2zM637 826h1v1h-1zM647 826h1v1h-1zM751 826h4v1h-4zM786 826h1v1h-1zM938 826h5v1h-5zM947 826h2v1h-2zM995 826h1v1h-1zM1294 826h2v1h-2zM1322 826h2v1h-2zM166 848h2v1h-2zM174 848h2v1h-2zM182 848h2v1h-2zM188 848h1v1h-1zM201 848h1v1h-1zM204 848h3v1h-3zM488 848h2v1h-2zM857 848h2v1h-2zM890 848h3v1h-3zM1050 848h2v1h-2zM1092 848h3v1h-3zM1120 848h1v1h-1zM1127 848h1v1h-1zM229 837h1v1h-1zM240 837h1v1h-1zM245 837h2v1h-2zM269 837h4v1h-4zM275 837h2v1h-2zM295 837h1v1h-1zM326 837h1v1h-1zM368 837h2v1h-2zM373 837h4v1h-4zM380 837h2v1h-2zM411 837h2v1h-2zM435 837h1v1h-1zM516 837h1v1h-1zM590 837h1v1h-1zM663 837h1v1h-1zM670 837h2v1h-2zM764 837h2v1h-2zM881 837h1v1h-1zM904 837h1v1h-1zM958 837h1v1h-1zM967 837h1v1h-1zM1036 837h2v1h-2zM1215 837h1v1h-1zM1229 837h4v1h-4zM1269 837h1v1h-1zM159 850h1v1h-1zM170 850h2v1h-2zM186 850h1v1h-1zM477 850h1v1h-1zM495 850h6v1h-6zM1055 850h2v1h-2zM1089 850h1v1h-1zM1123 850h2v1h-2zM1200 850h1v1h-1zM140 864h1v1h-1zM1142 864h2v1h-2zM1153 864h2v1h-2zM1180 864h2v1h-2zM1189 864h1v1h-1zM1394 803h1v1h-1zM1413 803h4v1h-4zM1428 803h3v1h-3zM535 825h4v1h-4zM646 825h1v1h-1zM746 825h5v1h-5zM943 825h4v1h-4zM985 825h10v1h-10zM1296 825h2v1h-2zM1321 825h1v1h-1zM698 804h1v1h-1zM1392 804h2v1h-2zM1417 804h11v1h-11zM4 855h2v1h-2zM155 855h1v1h-1zM468 855h3v1h-3zM1075 855h2v1h-2zM1085 855h1v1h-1zM234 831h1v1h-1zM257 831h2v1h-2zM333 831h1v1h-1zM390 831h1v1h-1zM398 831h1v1h-1zM441 831h1v1h-1zM454 831h1v1h-1zM522 831h1v1h-1zM583 831h2v1h-2zM652 831h2v1h-2zM782 831h1v1h-1zM910 831h1v1h-1zM927 831h4v1h-4zM954 831h1v1h-1zM999 831h1v1h-1zM1006 831h1v1h-1zM1013 831h1v1h-1zM1276 831h2v1h-2zM1332 831h2v1h-2zM334 830h1v1h-1zM391 830h2v1h-2zM397 830h1v1h-1zM442 830h3v1h-3zM453 830h1v1h-1zM523 830h2v1h-2zM580 830h3v1h-3zM602 830h5v1h-5zM615 830h5v1h-5zM650 830h2v1h-2zM783 830h1v1h-1zM911 830h2v1h-2zM921 830h6v1h-6zM931 830h2v1h-2zM953 830h1v1h-1zM1007 830h2v1h-2zM1012 830h1v1h-1zM1278 830h2v1h-2zM1330 830h2v1h-2zM232 833h1v1h-1zM236 833h1v1h-1zM252 833h3v1h-3zM261 833h2v1h-2zM281 833h1v1h-1zM287 833h4v1h-4zM330 833h1v1h-1zM387 833h2v1h-2zM401 833h1v1h-1zM439 833h1v1h-1zM457 833h1v1h-1zM520 833h1v1h-1zM587 833h1v1h-1zM600 833h1v1h-1zM656 833h2v1h-2zM792 833h1v1h-1zM799 833h2v1h-2zM871 833h2v1h-2zM875 833h2v1h-2zM907 833h2v1h-2zM970 833h1v1h-1zM1001 833h1v1h-1zM1003 833h2v1h-2zM1015 833h1v1h-1zM1273 833h1v1h-1zM1336 833h2v1h-2zM335 829h2v1h-2zM345 829h1v1h-1zM393 829h1v1h-1zM395 829h2v1h-2zM445 829h4v1h-4zM451 829h2v1h-2zM525 829h2v1h-2zM578 829h2v1h-2zM607 829h8v1h-8zM620 829h2v1h-2zM633 829h2v1h-2zM649 829h1v1h-1zM756 829h1v1h-1zM789 829h1v1h-1zM913 829h1v1h-1zM917 829h4v1h-4zM933 829h2v1h-2zM951 829h2v1h-2zM973 829h1v1h-1zM1009 829h1v1h-1zM1011 829h1v1h-1zM1280 829h2v1h-2zM1328 829h2v1h-2zM226 840h1v1h-1zM298 840h5v1h-5zM319 840h2v1h-2zM323 840h1v1h-1zM362 840h2v1h-2zM415 840h2v1h-2zM430 840h2v1h-2zM808 840h1v1h-1zM829 840h4v1h-4zM835 840h2v1h-2zM863 840h1v1h-1zM902 840h1v1h-1zM960 840h1v1h-1zM1042 840h1v1h-1zM1104 840h1v1h-1zM1211 840h1v1h-1zM1266 840h1v1h-1zM1343 840h1v1h-1zM1351 840h2v1h-2zM557 818h4v1h-4zM687 818h2v1h-2zM728 818h1v1h-1zM1311 818h4v1h-4zM546 820h5v1h-5zM642 820h1v1h-1zM682 820h2v1h-2zM735 820h4v1h-4zM1243 820h9v1h-9zM1304 820h2v1h-2zM1316 820h1v1h-1zM1364 820h3v1h-3zM191 845h1v1h-1zM197 845h2v1h-2zM219 845h2v1h-2zM355 845h2v1h-2zM481 845h1v1h-1zM483 845h2v1h-2zM845 845h4v1h-4zM1047 845h1v1h-1zM1099 845h1v1h-1zM1118 845h1v1h-1zM1205 845h1v1h-1zM90 873h5v1h-5zM1165 873h4v1h-4zM705 811h1v1h-1zM711 811h6v1h-6zM227 839h1v1h-1zM242 839h1v1h-1zM297 839h1v1h-1zM303 839h8v1h-8zM316 839h3v1h-3zM324 839h1v1h-1zM364 839h2v1h-2zM414 839h1v1h-1zM432 839h2v1h-2zM514 839h1v1h-1zM596 839h1v1h-1zM666 839h2v1h-2zM807 839h1v1h-1zM833 839h2v1h-2zM883 839h1v1h-1zM965 839h1v1h-1zM1040 839h2v1h-2zM1105 839h1v1h-1zM1111 839h4v1h-4zM1212 839h1v1h-1zM1267 839h1v1h-1zM1342 839h1v1h-1zM1353 839h1v1h-1zM700 806h1v1h-1zM1380 806h3v1h-3zM1389 806h2v1h-2zM162 846h2v1h-2zM178 846h2v1h-2zM190 846h1v1h-1zM199 846h1v1h-1zM209 846h10v1h-10zM480 846h1v1h-1zM485 846h2v1h-2zM849 846h4v1h-4zM897 846h2v1h-2zM1048 846h1v1h-1zM1097 846h2v1h-2zM1203 846h2v1h-2zM106 883h1v1h-1zM122 883h5v1h-5zM567 815h2v1h-2zM726 815h1v1h-1zM702 808h1v1h-1zM1385 808h2v1h-2zM233 832h1v1h-1zM235 832h1v1h-1zM255 832h2v1h-2zM259 832h2v1h-2zM282 832h5v1h-5zM331 832h2v1h-2zM389 832h1v1h-1zM399 832h2v1h-2zM440 832h1v1h-1zM455 832h2v1h-2zM521 832h1v1h-1zM585 832h2v1h-2zM654 832h2v1h-2zM758 832h1v1h-1zM781 832h1v1h-1zM791 832h1v1h-1zM801 832h2v1h-2zM873 832h2v1h-2zM909 832h1v1h-1zM971 832h1v1h-1zM1000 832h1v1h-1zM1005 832h1v1h-1zM1014 832h1v1h-1zM1274 832h2v1h-2zM1334 832h2v1h-2zM10 852h1v1h-1zM157 852h1v1h-1zM475 852h1v1h-1zM505 852h2v1h-2zM1063 852h6v1h-6zM1395 802h2v1h-2zM1410 802h3v1h-3zM1431 802h2v1h-2zM561 817h3v1h-3zM689 817h2v1h-2zM87 869h1v1h-1zM1159 869h1v1h-1zM238 835h1v1h-1zM248 835h2v1h-2zM264 835h2v1h-2zM278 835h1v1h-1zM292 835h1v1h-1zM328 835h1v1h-1zM384 835h2v1h-2zM405 835h4v1h-4zM437 835h1v1h-1zM518 835h1v1h-1zM659 835h2v1h-2zM674 835h1v1h-1zM760 835h1v1h-1zM768 835h2v1h-2zM773 835h4v1h-4zM779 835h1v1h-1zM794 835h2v1h-2zM804 835h1v1h-1zM866 835h2v1h-2zM878 835h1v1h-1zM1017 835h1v1h-1zM1217 835h1v1h-1zM1221 835h4v1h-4zM1271 835h1v1h-1zM1339 835h1v1h-1zM194 842h1v1h-1zM223 842h2v1h-2zM359 842h2v1h-2zM418 842h10v1h-10zM594 842h1v1h-1zM823 842h2v1h-2zM839 842h1v1h-1zM885 842h1v1h-1zM963 842h1v1h-1zM1044 842h1v1h-1zM1102 842h1v1h-1zM1116 842h1v1h-1zM1209 842h1v1h-1zM1349 842h1v1h-1zM127 884h3v1h-3zM23 860h2v1h-2zM41 860h1v1h-1zM78 860h2v1h-2zM1193 860h1v1h-1zM2 856h2v1h-2zM13 856h1v1h-1zM467 856h1v1h-1zM1077 856h2v1h-2zM1196 856h1v1h-1zM161 847h1v1h-1zM164 847h2v1h-2zM176 847h2v1h-2zM180 847h2v1h-2zM189 847h1v1h-1zM200 847h1v1h-1zM207 847h2v1h-2zM479 847h1v1h-1zM487 847h1v1h-1zM509 847h1v1h-1zM853 847h4v1h-4zM889 847h1v1h-1zM893 847h4v1h-4zM1049 847h1v1h-1zM1095 847h2v1h-2zM1128 847h2v1h-2zM1202 847h1v1h-1zM225 841h1v1h-1zM321 841h2v1h-2zM361 841h1v1h-1zM417 841h1v1h-1zM428 841h2v1h-2zM593 841h1v1h-1zM825 841h4v1h-4zM837 841h2v1h-2zM1043 841h1v1h-1zM1103 841h1v1h-1zM1210 841h1v1h-1zM1350 841h1v1h-1zM105 882h1v1h-1zM107 882h2v1h-2zM120 882h2v1h-2zM539 824h2v1h-2zM645 824h1v1h-1zM744 824h2v1h-2zM977 824h1v1h-1zM981 824h4v1h-4zM1298 824h1v1h-1zM1320 824h1v1h-1zM701 807h1v1h-1zM1383 807h2v1h-2zM1387 807h2v1h-2zM1397 801h2v1h-2zM1408 801h2v1h-2zM1433 801h6v1h-6zM1402 798h2v1h-2zM1449 798h2v1h-2zM100 876h1v1h-1zM569 814h2v1h-2zM541 823h2v1h-2zM639 823h1v1h-1zM743 823h1v1h-1zM978 823h3v1h-3zM1256 823h2v1h-2zM1299 823h2v1h-2zM1319 823h1v1h-1zM1 857h1v1h-1zM14 857h1v1h-1zM1079 857h1v1h-1zM0 858h1v1h-1zM15 858h1v1h-1zM31 858h6v1h-6zM58 858h1v1h-1zM74 858h2v1h-2zM1080 858h2v1h-2zM1083 858h1v1h-1zM193 843h1v1h-1zM195 843h1v1h-1zM222 843h1v1h-1zM358 843h1v1h-1zM810 843h5v1h-5zM820 843h3v1h-3zM840 843h2v1h-2zM861 843h1v1h-1zM886 843h1v1h-1zM900 843h1v1h-1zM962 843h1v1h-1zM1045 843h1v1h-1zM1101 843h1v1h-1zM1207 843h2v1h-2zM1345 843h1v1h-1zM1347 843h2v1h-2zM62 865h1v1h-1zM70 865h1v1h-1zM84 865h1v1h-1zM1144 865h2v1h-2zM1149 865h4v1h-4zM1155 865h1v1h-1zM1182 865h2v1h-2zM1188 865h1v1h-1zM693 812h1v1h-1zM706 812h5v1h-5zM724 812h1v1h-1zM551 819h6v1h-6zM684 819h3v1h-3zM1306 819h5v1h-5zM1315 819h1v1h-1zM1363 819h1v1h-1zM1140 863h2v1h-2zM1178 863h2v1h-2zM1190 863h1v1h-1zM8 853h2v1h-2zM11 853h1v1h-1zM473 853h2v1h-2zM1069 853h4v1h-4zM1087 853h1v1h-1zM1198 853h1v1h-1zM95 874h4v1h-4zM1169 874h2v1h-2zM695 809h1v1h-1zM703 809h1v1h-1zM721 809h2v1h-2zM543 822h1v1h-1zM640 822h1v1h-1zM741 822h2v1h-2zM1254 822h2v1h-2zM1301 822h2v1h-2zM1318 822h1v1h-1zM1369 822h1v1h-1zM104 881h1v1h-1zM109 881h2v1h-2zM119 881h1v1h-1zM18 862h2v1h-2zM82 862h1v1h-1zM1138 862h2v1h-2zM1191 862h1v1h-1zM6 854h2v1h-2zM471 854h2v1h-2zM1073 854h2v1h-2zM1086 854h1v1h-1zM103 880h1v1h-1zM111 880h1v1h-1zM117 880h2v1h-2zM1400 799h2v1h-2zM1404 799h2v1h-2zM1445 799h4v1h-4zM112 879h2v1h-2zM115 879h2v1h-2zM88 870h1v1h-1zM144 870h1v1h-1zM1160 870h1v1h-1zM1173 870h1v1h-1zM1161 871h1v1h-1zM1172 871h1v1h-1zM699 805h1v1h-1zM1379 805h1v1h-1zM1391 805h1v1h-1zM142 867h1v1h-1zM1157 867h1v1h-1zM1175 867h1v1h-1zM1186 867h1v1h-1zM66 872h1v1h-1zM1162 872h3v1h-3zM17 861h1v1h-1zM20 861h3v1h-3zM80 861h2v1h-2zM1192 861h1v1h-1zM564 816h3v1h-3zM114 878h1v1h-1zM1158 868h1v1h-1zM704 810h1v1h-1zM717 810h4v1h-4zM99 875h1v1h-1zM101 877h1v1h-1z"/>
<text x="-2" y="761" font-size="9.5" fill="#000" textLength="68" lengthAdjust="spacingAndGlyphs">RSI(14) 71.9423</text>
<polygon points="0,29 0,35 5,35" fill="#000"/>
<text x="9" y="32.8" font-size="9.5" fill="#000" textLength="198" lengthAdjust="spacingAndGlyphs" style="white-space:pre">HK50-,Daily  26397.0 26636.0 26361.5 26551.0</text>
<g shape-rendering="crispEdges">
<rect x="0" y="39" width="218" height="68" fill="#fff"/><rect x="0" y="41" width="49" height="64" fill="url(#gr)"/><rect x="0" y="41" width="49" height="1" fill="#c00000"/><rect x="48" y="41" width="1" height="24" fill="#c00000"/><rect x="165" y="41" width="51" height="64" fill="url(#gr)"/><rect x="165" y="41" width="51" height="1" fill="#c00000"/><rect x="215" y="41" width="1" height="64" fill="#b80000"/><rect x="165" y="41" width="1" height="24" fill="#c00000"/><rect x="0" y="65" width="106" height="40" fill="url(#gr)"/><rect x="108" y="65" width="108" height="40" fill="url(#gr)"/>
</g>
<g shape-rendering="crispEdges"><rect x="1" y="64" width="44" height="1" fill="#8b0000"/><rect x="1" y="65" width="44" height="1" fill="#ff6868"/><rect x="168" y="64" width="44" height="1" fill="#8b0000"/><rect x="168" y="65" width="44" height="1" fill="#ff6868"/><rect x="51" y="41" width="111" height="22" fill="#fff" stroke="none"/><rect x="51.5" y="41.5" width="110" height="21" fill="#fff" stroke="#a9a9a9"/><rect x="53" y="43" width="19" height="18" fill="url(#gb)" stroke="none"/><rect x="141" y="43" width="19" height="18" fill="url(#gb)"/><rect x="72" y="42" width="1" height="20" fill="#c8c8c8"/><rect x="140" y="42" width="1" height="20" fill="#c8c8c8"/></g>
<polygon points="59,50 65,50 62,53.5" fill="#4a5fb0"/><polygon points="147,53.5 153,53.5 150,50" fill="#4a5fb0"/>
<text x="137" y="56" font-size="12" fill="#000" text-anchor="end">1.00</text>
<text x="9" y="57" font-size="12" fill="#fff" textLength="26" lengthAdjust="spacingAndGlyphs">SELL</text><text x="177.5" y="57" font-size="12" fill="#fff" textLength="23.5" lengthAdjust="spacingAndGlyphs">BUY</text>
<text x="13" y="96" font-size="12" font-weight="bold" fill="#fff" textLength="34.5" lengthAdjust="spacingAndGlyphs">26549</text><text x="51" y="96" font-size="33" fill="#fff" textLength="23.5" lengthAdjust="spacingAndGlyphs">.5</text><text x="123" y="96" font-size="12" font-weight="bold" fill="#fff" textLength="34.5" lengthAdjust="spacingAndGlyphs">26566</text><text x="162.5" y="96" font-size="33" fill="#fff" textLength="23.5" lengthAdjust="spacingAndGlyphs">.5</text>
<g shape-rendering="crispEdges"><rect x="0" y="0" width="1731" height="17" fill="#f0f0f0"/><rect x="0" y="17" width="1731" height="1" fill="#b9b9b9"/><rect x="0" y="18" width="1731" height="1" fill="#6e6e6e"/><rect x="0" y="19" width="1731" height="2" fill="#fff"/><rect x="1730" y="19" width="1" height="919" fill="#e3e3e3"/><rect x="321" y="0" width="24" height="15" fill="#f9f9f9"/><rect x="472" y="0" width="24" height="15" fill="#f9f9f9"/><rect x="500" y="0" width="24" height="15" fill="#f9f9f9"/><rect x="660" y="0" width="24" height="15" fill="#f9f9f9"/><rect x="1134" y="0" width="24" height="15" fill="#f9f9f9"/><rect x="45" y="0" width="1" height="15" fill="#a0a0a0"/><rect x="281" y="0" width="1" height="15" fill="#a0a0a0"/><rect x="319" y="0" width="1" height="15" fill="#a0a0a0"/><rect x="376" y="0" width="1" height="15" fill="#a0a0a0"/><rect x="466" y="0" width="1" height="15" fill="#a0a0a0"/><rect x="471" y="0" width="1" height="15" fill="#a0a0a0"/><rect x="498" y="0" width="1" height="15" fill="#a0a0a0"/><rect x="528" y="0" width="1" height="15" fill="#a0a0a0"/><rect x="649" y="0" width="1" height="15" fill="#a0a0a0"/><rect x="659" y="0" width="1" height="15" fill="#a0a0a0"/><rect x="716" y="0" width="1" height="15" fill="#a0a0a0"/><rect x="955" y="0" width="1" height="15" fill="#a0a0a0"/><rect x="1133" y="0" width="1" height="15" fill="#a0a0a0"/><rect x="1216" y="0" width="1" height="15" fill="#a0a0a0"/><rect x="956" y="0" width="1" height="16" fill="#fff"/><rect x="282" y="0" width="1" height="16" fill="#fff"/><rect x="650" y="0" width="1" height="16" fill="#fff"/><rect x="649" y="15" width="1" height="1" fill="#a0a0a0"/><rect x="955" y="15" width="1" height="1" fill="#a0a0a0"/><rect x="281" y="15" width="1" height="1" fill="#a0a0a0"/><rect x="1216" y="15" width="1" height="2" fill="#a0a0a0"/><rect x="1217" y="0" width="1" height="16" fill="#fff"/><rect x="285" y="0" width="3" height="1" fill="#b0b0b0"/><rect x="285" y="2" width="3" height="1" fill="#b0b0b0"/><rect x="285" y="4" width="3" height="1" fill="#b0b0b0"/><rect x="285" y="6" width="3" height="1" fill="#b0b0b0"/><rect x="285" y="8" width="3" height="1" fill="#b0b0b0"/><rect x="285" y="10" width="3" height="1" fill="#b0b0b0"/><rect x="285" y="12" width="3" height="1" fill="#b0b0b0"/><rect x="653" y="0" width="3" height="1" fill="#b0b0b0"/><rect x="653" y="2" width="3" height="1" fill="#b0b0b0"/><rect x="653" y="4" width="3" height="1" fill="#b0b0b0"/><rect x="653" y="6" width="3" height="1" fill="#b0b0b0"/><rect x="653" y="8" width="3" height="1" fill="#b0b0b0"/><rect x="653" y="10" width="3" height="1" fill="#b0b0b0"/><rect x="653" y="12" width="3" height="1" fill="#b0b0b0"/><rect x="959" y="0" width="3" height="1" fill="#b0b0b0"/><rect x="959" y="2" width="3" height="1" fill="#b0b0b0"/><rect x="959" y="4" width="3" height="1" fill="#b0b0b0"/><rect x="959" y="6" width="3" height="1" fill="#b0b0b0"/><rect x="959" y="8" width="3" height="1" fill="#b0b0b0"/><rect x="959" y="10" width="3" height="1" fill="#b0b0b0"/><rect x="959" y="12" width="3" height="1" fill="#b0b0b0"/></g>
<g>
<rect x="-2" y="-2" width="9" height="13" fill="#fff" stroke="#3a6fd0" stroke-width="1.2"/><path d="M0 2h6M0 5h6M0 8h6" stroke="#9db8e8" stroke-width="1"/><rect x="20" y="-2" width="9" height="10" fill="#fff" stroke="#888"/><line x1="32" y1="9.5" x2="37" y2="14" stroke="#c8922a" stroke-width="3"/><circle cx="28.3" cy="5.5" r="5" fill="#d6e8fa" stroke="#86a6d6" stroke-width="1.4"/><rect x="26.5" y="2" width="3" height="5" fill="#a8b8c8"/><rect x="55.5" y="-2" width="11" height="12" fill="#fff" stroke="#777"/><path d="M58 2h7M58 5h5" stroke="#888" stroke-width="1.2"/><path d="M59 9.2h12M65 3.3v11.7" stroke="#0a8a0a" stroke-width="4.2"/><path d="M59.6 9.2h10.8M65 3.9v10.5" stroke="#22c822" stroke-width="2.8"/><text x="73.5" y="8.3" font-size="12" fill="#000" textLength="36.5" lengthAdjust="spacingAndGlyphs">新订单</text><polygon points="122,7 129.5,-1 138.5,6.3 130.7,13.3" fill="#d8a028" stroke="#9a6a10" stroke-width="1"/><polygon points="123.5,7 129.5,0.5 136,5.8 130,10.5" fill="#f4cc58"/><polygon points="130.7,13.3 138.5,6.3 138.5,8 131,14.5" fill="#a87410"/><rect x="153" y="-2" width="10" height="8" fill="#2f86e6"/><rect x="156" y="-1" width="2" height="6" fill="#9cc8f8"/><g fill="#eef2fa" stroke="#8a9cc0" stroke-width="0.9"><circle cx="154" cy="9.5" r="3.2"/><circle cx="162.5" cy="9.8" r="3"/><circle cx="158" cy="7.8" r="3.4"/></g><rect x="153" y="8.5" width="10.5" height="3.6" fill="#eef2fa"/><path d="M152.5 12.6h11.5" stroke="#8a9cc0" stroke-width="0.9"/><path d="M186 -3.5A8 8 0 0 1 186 12.5Z" fill="#9ad09a"/><path d="M186 -3.5A8 8 0 0 0 186 12.5" fill="none" stroke="#7aa0e0" stroke-width="1.3"/><path d="M186 -0.5A5 5 0 0 0 186 9.5" fill="none" stroke="#5a84d8" stroke-width="1.3"/><path d="M186 -0.5A5 5 0 0 1 186 9.5" fill="none" stroke="#58a858" stroke-width="1.3"/><path d="M186 -3.5A8 8 0 0 1 186 12.5" fill="none" stroke="#4a9a4a" stroke-width="1.3"/><rect x="185" y="5" width="2.4" height="8" fill="#2fa02f"/><circle cx="186" cy="4.6" r="1.7" fill="#2858c8"/><ellipse cx="212" cy="1" rx="7.5" ry="3.5" fill="#6aa8e0" stroke="#3c78b8"/><polygon points="205,3 219,3 214,12 210,12" fill="#e8c030"/><circle cx="217.5" cy="8.5" r="4.2" fill="#e02020"/><rect x="216" y="7" width="3" height="3" fill="#fff"/><text x="227" y="8.3" font-size="12" fill="#000" textLength="46" lengthAdjust="spacingAndGlyphs">自动交易</text>
<g shape-rendering="crispEdges" fill="#505050"><rect x="299" y="0" width="1" height="13"/><rect x="297" y="10" width="13" height="1"/></g><polygon points="308,8.5 311,10.5 308,12.5" fill="#505050"/><path d="M305 0v8M303 7h2M305 1h2" stroke="#1a9a1a" stroke-width="1.3" fill="none"/><g shape-rendering="crispEdges" fill="#505050"><rect x="327" y="0" width="1" height="13"/><rect x="325" y="10" width="13" height="1"/></g><polygon points="336,8.5 339,10.5 336,12.5" fill="#505050"/><rect x="331" y="-2" width="4" height="9" fill="#18b018" stroke="#0a700a" stroke-width="0.8"/><line x1="333" y1="7" x2="333" y2="9" stroke="#0a700a"/><g shape-rendering="crispEdges" fill="#505050"><rect x="355" y="0" width="1" height="13"/><rect x="353" y="10" width="13" height="1"/></g><polygon points="364,8.5 367,10.5 364,12.5" fill="#505050"/><path d="M355 6 C358 0,361 0,366 6" stroke="#1a9a1a" stroke-width="1.3" fill="none"/><line x1="395" y1="7" x2="400" y2="12" stroke="#a88010" stroke-width="3.6"/><line x1="395" y1="7" x2="399.6" y2="11.6" stroke="#e8c440" stroke-width="2"/><circle cx="391" cy="3" r="5.4" fill="#d4e8fa" stroke="#4a8ad8" stroke-width="1.5"/><path d="M387 3h7M391 -0.5v7" stroke="#2c6cc0" stroke-width="1.8"/><line x1="423" y1="7" x2="428" y2="12" stroke="#a88010" stroke-width="3.6"/><line x1="423" y1="7" x2="427.6" y2="11.6" stroke="#e8c440" stroke-width="2"/><circle cx="419" cy="3" r="5.4" fill="#d4e8fa" stroke="#4a8ad8" stroke-width="1.5"/><path d="M415 3h7" stroke="#2c6cc0" stroke-width="1.8"/><rect x="441" y="-2" width="7" height="6" fill="#58b058"/><rect x="450" y="-2" width="7" height="6" fill="#3a78d8"/><rect x="441" y="5.5" width="7" height="7" fill="#3a78d8"/><rect x="450" y="5.5" width="7" height="7" fill="#58b058"/><path d="M442.5 1h4M451.5 1h4M442.5 9h4M451.5 9h4" stroke="#fff" stroke-width="1.6"/><g shape-rendering="crispEdges" fill="#505050"><rect x="479" y="0" width="1" height="13"/><rect x="477" y="10" width="13" height="1"/></g><polygon points="488,8.5 491,10.5 488,12.5" fill="#505050"/><polygon points="483,1 483,8 488,4.5" fill="#20a020"/><g shape-rendering="crispEdges" fill="#505050"><rect x="507" y="0" width="1" height="13"/><rect x="505" y="10" width="13" height="1"/></g><polygon points="516,8.5 519,10.5 516,12.5" fill="#505050"/><line x1="513" y1="0" x2="513" y2="9" stroke="#2050c0"/><path d="M519 4h-5M516.5 2l-2.5 2 2.5 2" stroke="#d03010" stroke-width="1.1" fill="none"/><rect x="538.5" y="-2" width="10" height="11" fill="#fff" stroke="#777"/><rect x="541.5" y="-2" width="9" height="9" fill="#fff" stroke="#888"/><path d="M542.3 8.4h12M548.3 2.5v11.8" stroke="#0a8a0a" stroke-width="4.2"/><path d="M542.9 8.4h10.8M548.3 3.1v10.6" stroke="#22c822" stroke-width="2.8"/><polygon points="560,4 565,4 562.5,7" fill="#000"/><circle cx="584" cy="4.5" r="7" fill="#f4f8ff" stroke="#2468d0" stroke-width="3"/><path d="M584 0v4.5h3" stroke="#555" stroke-width="1" fill="none"/><polygon points="599,4 604,4 601.5,7" fill="#000"/><rect x="615.5" y="-2" width="15" height="13.5" fill="#fff" stroke="#3a78d8" stroke-width="1.4"/><path d="M615.5 5.8h15" stroke="#3a78d8" stroke-width="1"/><path d="M618 3.8l3-1 3 0.5 4-1.8" stroke="#b02818" stroke-width="1.2" fill="none"/><path d="M618 9l3-0.6 2 0.4 3-2 2 1.6" stroke="#18a028" stroke-width="1.2" fill="none"/><polygon points="638,4 643,4 640.5,7" fill="#000"/><polygon points="667,-2 667,10 670,7.5 672.5,12 674,11 671.5,7 675.5,7" fill="#505050"/><path d="M692 5.5h15M699.5 -2v15" stroke="#444" stroke-width="1"/><path d="M733.5 0v12" stroke="#444"/><path d="M756 5.5h12" stroke="#444"/><path d="M784.5 12L796 0" stroke="#555" stroke-width="1.1"/><path d="M809.5 7.3l10.5-8.3M811 11l12.8-9.5M815.5 11.5l8.5-6.5" stroke="#555" stroke-width="1.1" fill="none"/><path d="M812 5v5M814.5 3v5.5M817 1v5.5M819.5 -0.5v5M822 3v4" stroke="#555" stroke-width="0.9" fill="none"/><text x="820.3" y="14" font-size="7.5" font-weight="bold" fill="#333">E</text><path d="M839 1.5h13M839 5.5h13M839 9.5h9" stroke="#555" stroke-dasharray="1,1"/><text x="848" y="14" font-size="7.5" font-weight="bold" fill="#333">F</text><text x="869.8" y="9.9" font-size="12" fill="#4a4a4a" stroke="#4a4a4a" stroke-width="0.25">A</text><rect x="896.5" y="1.5" width="11" height="10" fill="none" stroke="#555" stroke-dasharray="1,1" shape-rendering="crispEdges"/><text x="898.6" y="10.2" font-size="10" fill="#4a4a4a" stroke="#4a4a4a" stroke-width="0.3">T</text><polygon points="923,1.5 926,-1.5 929,1.5 926,4" fill="#444"/><polygon points="930,9 933.7,5.8 937.4,9 933.7,12.2" fill="#444"/><path d="M925.5 6l2.5 2.5 4.5-5.5" stroke="#444" stroke-width="1.3" fill="none"/><polygon points="944,4 949,4 946.5,7" fill="#000"/>
<text x="970.5" y="9.3" font-size="10.8" fill="#404040" textLength="13" lengthAdjust="spacingAndGlyphs">M1</text><text x="998.5" y="9.3" font-size="10.8" fill="#404040" textLength="12.7" lengthAdjust="spacingAndGlyphs">M5</text><text x="1024.5" y="9.3" font-size="10.8" fill="#404040" textLength="18" lengthAdjust="spacingAndGlyphs">M15</text><text x="1052.5" y="9.3" font-size="10.8" fill="#404040" textLength="18" lengthAdjust="spacingAndGlyphs">M30</text><text x="1083" y="9.3" font-size="10.8" fill="#404040" textLength="12" lengthAdjust="spacingAndGlyphs">H1</text><text x="1110.5" y="9.3" font-size="10.8" fill="#404040" textLength="12.5" lengthAdjust="spacingAndGlyphs">H4</text><text x="1140" y="9.3" font-size="10.8" fill="#404040" textLength="11.5" lengthAdjust="spacingAndGlyphs">D1</text><text x="1167" y="9.3" font-size="10.8" fill="#404040" textLength="14" lengthAdjust="spacingAndGlyphs">W1</text><text x="1193.5" y="9.3" font-size="10.8" fill="#404040" textLength="15" lengthAdjust="spacingAndGlyphs">MN</text><line x1="1683.5" y1="5.7" x2="1679.3" y2="9.9" stroke="#2a5cd8" stroke-width="2.6"/><circle cx="1686.5" cy="2.3" r="4.2" fill="#f4f6fa" stroke="#2a60e0" stroke-width="1.2"/><ellipse cx="1719.3" cy="2.8" rx="6.3" ry="5" fill="#ececf2" stroke="#8a8a8a" stroke-width="0.9"/><polygon points="1720.5,7 1722.3,8.8 1723.2,6.2" fill="#707070"/><ellipse cx="1710.4" cy="6.1" rx="4.9" ry="3.6" fill="#f6f6f8" stroke="#808080" stroke-width="0.9"/><polygon points="1707.5,8.8 1707.2,11.8 1709.8,9.4" fill="#808080"/>
</g>
</svg>
</body></html>
